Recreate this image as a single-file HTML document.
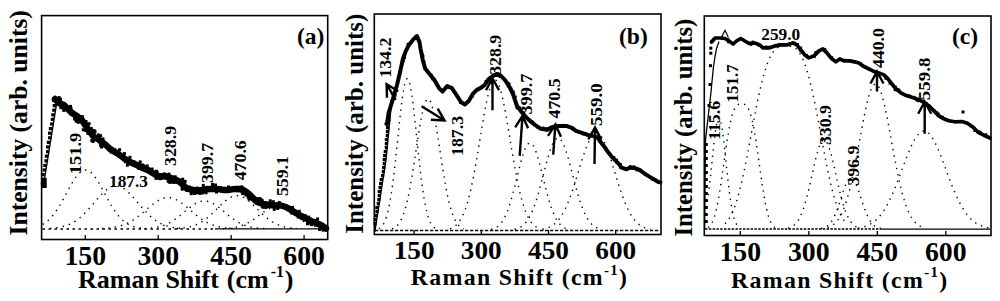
<!DOCTYPE html>
<html><head><meta charset="utf-8"><style>
html,body{margin:0;padding:0;background:#fff;}
svg{display:block;}
text{font-family:"Liberation Serif",serif;}
</style></head><body>
<svg width="1000" height="301" viewBox="0 0 1000 301" shape-rendering="auto">
<rect width="1000" height="301" fill="#fff"/>
<rect x="41.6" y="15.6" width="286.09999999999997" height="223.9" fill="none" stroke="#000" stroke-width="1.6"/>
<line x1="85.3" y1="239.5" x2="85.3" y2="235.0" stroke="#000" stroke-width="1.3"/>
<line x1="158.23000000000002" y1="239.5" x2="158.23000000000002" y2="235.0" stroke="#000" stroke-width="1.3"/>
<line x1="231.16000000000003" y1="239.5" x2="231.16000000000003" y2="235.0" stroke="#000" stroke-width="1.3"/>
<line x1="304.09000000000003" y1="239.5" x2="304.09000000000003" y2="235.0" stroke="#000" stroke-width="1.3"/>
<text transform="translate(85.30,264.5) scale(1.03,1)" font-weight="bold" font-size="27" text-anchor="middle">150</text>
<text transform="translate(158.23,264.5) scale(1.03,1)" font-weight="bold" font-size="27" text-anchor="middle">300</text>
<text transform="translate(231.16,264.5) scale(1.03,1)" font-weight="bold" font-size="27" text-anchor="middle">450</text>
<text transform="translate(304.09,264.5) scale(1.03,1)" font-weight="bold" font-size="27" text-anchor="middle">600</text>
<text x="78" y="287.8" font-weight="bold" font-size="26" letter-spacing="0">Raman Shift <tspan dx="1.5">(cm</tspan><tspan font-size="16.1" dx="2" dy="-11.2">-1</tspan><tspan dx="0.5" dy="11.2">)</tspan></text>
<text transform="translate(27.3,235.5) rotate(-90)" font-weight="bold" font-size="25.6">Intensity (arb. units)</text>
<text x="297" y="43.7" font-weight="bold" font-size="23.5">(a)</text>
<line x1="42.5" y1="228.9" x2="215" y2="228.9" stroke="#000" stroke-width="1.5" stroke-dasharray="2.5 3.5"/>
<line x1="215" y1="228.9" x2="327" y2="228.9" stroke="#000" stroke-width="1.2"/>
<path d="M42.5,224.4 L43.0,224.1 L43.5,223.8 L44.0,223.5 L44.5,223.2 L45.0,222.8 L45.5,222.5 L46.0,222.1 L46.5,221.7 L47.0,221.3 L47.5,220.9 L48.0,220.5 L48.5,220.1 L49.0,219.6 L49.5,219.1 L50.0,218.6 L50.5,218.1 L51.0,217.6 L51.5,217.0 L52.0,216.5 L52.5,215.9 L53.0,215.3 L53.5,214.6 L54.0,214.0 L54.5,213.3 L55.0,212.7 L55.5,212.0 L56.0,211.3 L56.5,210.5 L57.0,209.8 L57.5,209.0 L58.0,208.2 L58.5,207.4 L59.0,206.6 L59.5,205.8 L60.0,205.0 L60.5,204.1 L61.0,203.3 L61.5,202.4 L62.0,201.5 L62.5,200.6 L63.0,199.7 L63.5,198.8 L64.0,197.8 L64.5,196.9 L65.0,196.0 L65.5,195.1 L66.0,194.1 L66.5,193.2 L67.0,192.2 L67.5,191.3 L68.0,190.4 L68.5,189.4 L69.0,188.5 L69.5,187.6 L70.0,186.7 L70.5,185.8 L71.0,184.9 L71.5,184.0 L72.0,183.1 L72.5,182.3 L73.0,181.5 L73.5,180.7 L74.0,179.9 L74.5,179.1 L75.0,178.3 L75.5,177.6 L76.0,176.9 L76.5,176.3 L77.0,175.6 L77.5,175.0 L78.0,174.4 L78.5,173.9 L79.0,173.3 L79.5,172.9 L80.0,172.4 L80.5,172.0 L81.0,171.6 L81.5,171.3 L82.0,171.0 L82.5,170.7 L83.0,170.5 L83.5,170.3 L84.0,170.2 L84.5,170.1 L85.0,170.0 L85.5,170.0 L86.0,170.0 L86.5,170.1 L87.0,170.2 L87.5,170.3 L88.0,170.5 L88.5,170.7 L89.0,171.0 L89.5,171.3 L90.0,171.6 L90.5,172.0 L91.0,172.4 L91.5,172.9 L92.0,173.3 L92.5,173.9 L93.0,174.4 L93.5,175.0 L94.0,175.6 L94.5,176.3 L95.0,176.9 L95.5,177.6 L96.0,178.3 L96.5,179.1 L97.0,179.9 L97.5,180.7 L98.0,181.5 L98.5,182.3 L99.0,183.1 L99.5,184.0 L100.0,184.9 L100.5,185.8 L101.0,186.7 L101.5,187.6 L102.0,188.5 L102.5,189.4 L103.0,190.4 L103.5,191.3 L104.0,192.2 L104.5,193.2 L105.0,194.1 L105.5,195.1 L106.0,196.0 L106.5,196.9 L107.0,197.8 L107.5,198.8 L108.0,199.7 L108.5,200.6 L109.0,201.5 L109.5,202.4 L110.0,203.3 L110.5,204.1 L111.0,205.0 L111.5,205.8 L112.0,206.6 L112.5,207.4 L113.0,208.2 L113.5,209.0 L114.0,209.8 L114.5,210.5 L115.0,211.3 L115.5,212.0 L116.0,212.7 L116.5,213.3 L117.0,214.0 L117.5,214.6 L118.0,215.3 L118.5,215.9 L119.0,216.5 L119.5,217.0 L120.0,217.6 L120.5,218.1 L121.0,218.6 L121.5,219.1 L122.0,219.6 L122.5,220.1 L123.0,220.5 L123.5,220.9 L124.0,221.3 L124.5,221.7 L125.0,222.1 L125.5,222.5 L126.0,222.8 L126.5,223.2 L127.0,223.5 L127.5,223.8 L128.0,224.1 L128.5,224.4 L129.0,224.6 L129.5,224.9 L130.0,225.1 L130.5,225.3 L131.0,225.6 L131.5,225.8 L132.0,226.0 L132.5,226.1 L133.0,226.3 L133.5,226.5 L134.0,226.6 L134.5,226.8 L135.0,226.9 L135.5,227.1 L136.0,227.2 L136.5,227.3 L137.0,227.4 L137.5,227.5 L138.0,227.6 L138.5,227.7 L139.0,227.8 L139.5,227.9 L140.0,227.9 L140.5,228.0 L141.0,228.1 L141.5,228.1 L142.0,228.2 L142.5,228.2" fill="none" stroke="#000" stroke-width="1.4" stroke-dasharray="1.4 5"/>
<path d="M50.0,228.4 L50.5,228.4 L51.0,228.4 L51.5,228.3 L52.0,228.3 L52.5,228.2 L53.0,228.2 L53.5,228.1 L54.0,228.1 L54.5,228.0 L55.0,228.0 L55.5,227.9 L56.0,227.9 L56.5,227.8 L57.0,227.7 L57.5,227.6 L58.0,227.6 L58.5,227.5 L59.0,227.4 L59.5,227.3 L60.0,227.2 L60.5,227.1 L61.0,227.0 L61.5,226.9 L62.0,226.8 L62.5,226.7 L63.0,226.5 L63.5,226.4 L64.0,226.3 L64.5,226.1 L65.0,226.0 L65.5,225.8 L66.0,225.7 L66.5,225.5 L67.0,225.3 L67.5,225.1 L68.0,224.9 L68.5,224.7 L69.0,224.5 L69.5,224.3 L70.0,224.1 L70.5,223.8 L71.0,223.6 L71.5,223.4 L72.0,223.1 L72.5,222.8 L73.0,222.5 L73.5,222.3 L74.0,222.0 L74.5,221.7 L75.0,221.3 L75.5,221.0 L76.0,220.7 L76.5,220.3 L77.0,220.0 L77.5,219.6 L78.0,219.2 L78.5,218.9 L79.0,218.5 L79.5,218.1 L80.0,217.7 L80.5,217.2 L81.0,216.8 L81.5,216.4 L82.0,215.9 L82.5,215.4 L83.0,215.0 L83.5,214.5 L84.0,214.0 L84.5,213.5 L85.0,213.0 L85.5,212.5 L86.0,212.0 L86.5,211.4 L87.0,210.9 L87.5,210.4 L88.0,209.8 L88.5,209.3 L89.0,208.7 L89.5,208.1 L90.0,207.6 L90.5,207.0 L91.0,206.4 L91.5,205.8 L92.0,205.2 L92.5,204.7 L93.0,204.1 L93.5,203.5 L94.0,202.9 L94.5,202.3 L95.0,201.7 L95.5,201.1 L96.0,200.5 L96.5,199.9 L97.0,199.4 L97.5,198.8 L98.0,198.2 L98.5,197.6 L99.0,197.1 L99.5,196.5 L100.0,196.0 L100.5,195.4 L101.0,194.9 L101.5,194.4 L102.0,193.9 L102.5,193.4 L103.0,192.9 L103.5,192.4 L104.0,191.9 L104.5,191.5 L105.0,191.0 L105.5,190.6 L106.0,190.2 L106.5,189.8 L107.0,189.4 L107.5,189.1 L108.0,188.7 L108.5,188.4 L109.0,188.1 L109.5,187.8 L110.0,187.6 L110.5,187.3 L111.0,187.1 L111.5,186.9 L112.0,186.7 L112.5,186.5 L113.0,186.4 L113.5,186.3 L114.0,186.2 L114.5,186.1 L115.0,186.0 L115.5,186.0 L116.0,186.0 L116.5,186.0 L117.0,186.0 L117.5,186.1 L118.0,186.2 L118.5,186.3 L119.0,186.4 L119.5,186.5 L120.0,186.7 L120.5,186.9 L121.0,187.1 L121.5,187.3 L122.0,187.6 L122.5,187.8 L123.0,188.1 L123.5,188.4 L124.0,188.7 L124.5,189.1 L125.0,189.4 L125.5,189.8 L126.0,190.2 L126.5,190.6 L127.0,191.0 L127.5,191.5 L128.0,191.9 L128.5,192.4 L129.0,192.9 L129.5,193.4 L130.0,193.9 L130.5,194.4 L131.0,194.9 L131.5,195.4 L132.0,196.0 L132.5,196.5 L133.0,197.1 L133.5,197.6 L134.0,198.2 L134.5,198.8 L135.0,199.4 L135.5,199.9 L136.0,200.5 L136.5,201.1 L137.0,201.7 L137.5,202.3 L138.0,202.9 L138.5,203.5 L139.0,204.1 L139.5,204.7 L140.0,205.2 L140.5,205.8 L141.0,206.4 L141.5,207.0 L142.0,207.6 L142.5,208.1 L143.0,208.7 L143.5,209.3 L144.0,209.8 L144.5,210.4 L145.0,210.9 L145.5,211.4 L146.0,212.0 L146.5,212.5 L147.0,213.0 L147.5,213.5 L148.0,214.0 L148.5,214.5 L149.0,215.0 L149.5,215.4 L150.0,215.9 L150.5,216.4 L151.0,216.8 L151.5,217.2 L152.0,217.7 L152.5,218.1 L153.0,218.5 L153.5,218.9 L154.0,219.2 L154.5,219.6 L155.0,220.0 L155.5,220.3 L156.0,220.7 L156.5,221.0 L157.0,221.3 L157.5,221.7 L158.0,222.0 L158.5,222.3 L159.0,222.5 L159.5,222.8 L160.0,223.1 L160.5,223.4 L161.0,223.6 L161.5,223.8 L162.0,224.1 L162.5,224.3 L163.0,224.5 L163.5,224.7 L164.0,224.9 L164.5,225.1 L165.0,225.3 L165.5,225.5 L166.0,225.7 L166.5,225.8 L167.0,226.0 L167.5,226.1 L168.0,226.3 L168.5,226.4 L169.0,226.5 L169.5,226.7 L170.0,226.8 L170.5,226.9 L171.0,227.0 L171.5,227.1 L172.0,227.2 L172.5,227.3 L173.0,227.4 L173.5,227.5 L174.0,227.6 L174.5,227.6 L175.0,227.7 L175.5,227.8 L176.0,227.9 L176.5,227.9 L177.0,228.0 L177.5,228.0 L178.0,228.1 L178.5,228.1 L179.0,228.2 L179.5,228.2 L180.0,228.3 L180.5,228.3 L181.0,228.4 L181.5,228.4 L182.0,228.4" fill="none" stroke="#000" stroke-width="1.4" stroke-dasharray="1.4 5"/>
<path d="M102.0,228.6 L102.5,228.5 L103.0,228.5 L103.5,228.5 L104.0,228.4 L104.5,228.4 L105.0,228.4 L105.5,228.3 L106.0,228.3 L106.5,228.3 L107.0,228.2 L107.5,228.2 L108.0,228.1 L108.5,228.1 L109.0,228.0 L109.5,228.0 L110.0,227.9 L110.5,227.9 L111.0,227.8 L111.5,227.7 L112.0,227.7 L112.5,227.6 L113.0,227.5 L113.5,227.4 L114.0,227.4 L114.5,227.3 L115.0,227.2 L115.5,227.1 L116.0,227.0 L116.5,226.9 L117.0,226.8 L117.5,226.7 L118.0,226.5 L118.5,226.4 L119.0,226.3 L119.5,226.1 L120.0,226.0 L120.5,225.9 L121.0,225.7 L121.5,225.5 L122.0,225.4 L122.5,225.2 L123.0,225.0 L123.5,224.9 L124.0,224.7 L124.5,224.5 L125.0,224.3 L125.5,224.1 L126.0,223.8 L126.5,223.6 L127.0,223.4 L127.5,223.2 L128.0,222.9 L128.5,222.7 L129.0,222.4 L129.5,222.1 L130.0,221.9 L130.5,221.6 L131.0,221.3 L131.5,221.0 L132.0,220.7 L132.5,220.4 L133.0,220.1 L133.5,219.7 L134.0,219.4 L134.5,219.1 L135.0,218.7 L135.5,218.4 L136.0,218.0 L136.5,217.7 L137.0,217.3 L137.5,216.9 L138.0,216.5 L138.5,216.2 L139.0,215.8 L139.5,215.4 L140.0,215.0 L140.5,214.6 L141.0,214.2 L141.5,213.7 L142.0,213.3 L142.5,212.9 L143.0,212.5 L143.5,212.1 L144.0,211.6 L144.5,211.2 L145.0,210.8 L145.5,210.3 L146.0,209.9 L146.5,209.5 L147.0,209.1 L147.5,208.6 L148.0,208.2 L148.5,207.8 L149.0,207.3 L149.5,206.9 L150.0,206.5 L150.5,206.1 L151.0,205.7 L151.5,205.3 L152.0,204.9 L152.5,204.5 L153.0,204.1 L153.5,203.7 L154.0,203.3 L154.5,203.0 L155.0,202.6 L155.5,202.3 L156.0,201.9 L156.5,201.6 L157.0,201.3 L157.5,201.0 L158.0,200.7 L158.5,200.4 L159.0,200.1 L159.5,199.9 L160.0,199.6 L160.5,199.4 L161.0,199.1 L161.5,198.9 L162.0,198.7 L162.5,198.6 L163.0,198.4 L163.5,198.2 L164.0,198.1 L164.5,198.0 L165.0,197.9 L165.5,197.8 L166.0,197.7 L166.5,197.7 L167.0,197.6 L167.5,197.6 L168.0,197.6 L168.5,197.6 L169.0,197.6 L169.5,197.7 L170.0,197.7 L170.5,197.8 L171.0,197.9 L171.5,198.0 L172.0,198.1 L172.5,198.2 L173.0,198.4 L173.5,198.6 L174.0,198.7 L174.5,198.9 L175.0,199.1 L175.5,199.4 L176.0,199.6 L176.5,199.9 L177.0,200.1 L177.5,200.4 L178.0,200.7 L178.5,201.0 L179.0,201.3 L179.5,201.6 L180.0,201.9 L180.5,202.3 L181.0,202.6 L181.5,203.0 L182.0,203.3 L182.5,203.7 L183.0,204.1 L183.5,204.5 L184.0,204.9 L184.5,205.3 L185.0,205.7 L185.5,206.1 L186.0,206.5 L186.5,206.9 L187.0,207.3 L187.5,207.8 L188.0,208.2 L188.5,208.6 L189.0,209.1 L189.5,209.5 L190.0,209.9 L190.5,210.3 L191.0,210.8 L191.5,211.2 L192.0,211.6 L192.5,212.1 L193.0,212.5 L193.5,212.9 L194.0,213.3 L194.5,213.7 L195.0,214.2 L195.5,214.6 L196.0,215.0 L196.5,215.4 L197.0,215.8 L197.5,216.2 L198.0,216.5 L198.5,216.9 L199.0,217.3 L199.5,217.7 L200.0,218.0 L200.5,218.4 L201.0,218.7 L201.5,219.1 L202.0,219.4 L202.5,219.7 L203.0,220.1 L203.5,220.4 L204.0,220.7 L204.5,221.0 L205.0,221.3 L205.5,221.6 L206.0,221.9 L206.5,222.1 L207.0,222.4 L207.5,222.7 L208.0,222.9 L208.5,223.2 L209.0,223.4 L209.5,223.6 L210.0,223.8 L210.5,224.1 L211.0,224.3 L211.5,224.5 L212.0,224.7 L212.5,224.9 L213.0,225.0 L213.5,225.2 L214.0,225.4 L214.5,225.5 L215.0,225.7 L215.5,225.9 L216.0,226.0 L216.5,226.1 L217.0,226.3 L217.5,226.4 L218.0,226.5 L218.5,226.7 L219.0,226.8 L219.5,226.9 L220.0,227.0 L220.5,227.1 L221.0,227.2 L221.5,227.3 L222.0,227.4 L222.5,227.4 L223.0,227.5 L223.5,227.6 L224.0,227.7 L224.5,227.7 L225.0,227.8 L225.5,227.9 L226.0,227.9 L226.5,228.0 L227.0,228.0 L227.5,228.1 L228.0,228.1 L228.5,228.2 L229.0,228.2 L229.5,228.3 L230.0,228.3 L230.5,228.3 L231.0,228.4 L231.5,228.4 L232.0,228.4 L232.5,228.5 L233.0,228.5 L233.5,228.5 L234.0,228.6" fill="none" stroke="#000" stroke-width="1.4" stroke-dasharray="1.4 5"/>
<path d="M144.4,228.6 L144.9,228.6 L145.4,228.5 L145.9,228.5 L146.4,228.5 L146.9,228.5 L147.4,228.4 L147.9,228.4 L148.4,228.3 L148.9,228.3 L149.4,228.3 L149.9,228.2 L150.4,228.2 L150.9,228.1 L151.4,228.1 L151.9,228.0 L152.4,228.0 L152.9,227.9 L153.4,227.8 L153.9,227.7 L154.4,227.7 L154.9,227.6 L155.4,227.5 L155.9,227.4 L156.4,227.3 L156.9,227.2 L157.4,227.1 L157.9,227.0 L158.4,226.9 L158.9,226.8 L159.4,226.7 L159.9,226.6 L160.4,226.4 L160.9,226.3 L161.4,226.1 L161.9,226.0 L162.4,225.8 L162.9,225.7 L163.4,225.5 L163.9,225.3 L164.4,225.1 L164.9,224.9 L165.4,224.7 L165.9,224.5 L166.4,224.3 L166.9,224.1 L167.4,223.9 L167.9,223.6 L168.4,223.4 L168.9,223.1 L169.4,222.9 L169.9,222.6 L170.4,222.3 L170.9,222.0 L171.4,221.7 L171.9,221.4 L172.4,221.1 L172.9,220.8 L173.4,220.5 L173.9,220.2 L174.4,219.8 L174.9,219.5 L175.4,219.1 L175.9,218.8 L176.4,218.4 L176.9,218.1 L177.4,217.7 L177.9,217.3 L178.4,216.9 L178.9,216.5 L179.4,216.1 L179.9,215.7 L180.4,215.3 L180.9,214.9 L181.4,214.5 L181.9,214.1 L182.4,213.7 L182.9,213.2 L183.4,212.8 L183.9,212.4 L184.4,212.0 L184.9,211.6 L185.4,211.1 L185.9,210.7 L186.4,210.3 L186.9,209.9 L187.4,209.5 L187.9,209.0 L188.4,208.6 L188.9,208.2 L189.4,207.8 L189.9,207.4 L190.4,207.1 L190.9,206.7 L191.4,206.3 L191.9,206.0 L192.4,205.6 L192.9,205.3 L193.4,204.9 L193.9,204.6 L194.4,204.3 L194.9,204.0 L195.4,203.7 L195.9,203.4 L196.4,203.1 L196.9,202.9 L197.4,202.7 L197.9,202.4 L198.4,202.2 L198.9,202.0 L199.4,201.9 L199.9,201.7 L200.4,201.6 L200.9,201.4 L201.4,201.3 L201.9,201.2 L202.4,201.1 L202.9,201.1 L203.4,201.0 L203.9,201.0 L204.4,201.0 L204.9,201.0 L205.4,201.0 L205.9,201.1 L206.4,201.1 L206.9,201.2 L207.4,201.3 L207.9,201.4 L208.4,201.6 L208.9,201.7 L209.4,201.9 L209.9,202.0 L210.4,202.2 L210.9,202.4 L211.4,202.7 L211.9,202.9 L212.4,203.1 L212.9,203.4 L213.4,203.7 L213.9,204.0 L214.4,204.3 L214.9,204.6 L215.4,204.9 L215.9,205.3 L216.4,205.6 L216.9,206.0 L217.4,206.3 L217.9,206.7 L218.4,207.1 L218.9,207.4 L219.4,207.8 L219.9,208.2 L220.4,208.6 L220.9,209.0 L221.4,209.5 L221.9,209.9 L222.4,210.3 L222.9,210.7 L223.4,211.1 L223.9,211.6 L224.4,212.0 L224.9,212.4 L225.4,212.8 L225.9,213.2 L226.4,213.7 L226.9,214.1 L227.4,214.5 L227.9,214.9 L228.4,215.3 L228.9,215.7 L229.4,216.1 L229.9,216.5 L230.4,216.9 L230.9,217.3 L231.4,217.7 L231.9,218.1 L232.4,218.4 L232.9,218.8 L233.4,219.1 L233.9,219.5 L234.4,219.8 L234.9,220.2 L235.4,220.5 L235.9,220.8 L236.4,221.1 L236.9,221.4 L237.4,221.7 L237.9,222.0 L238.4,222.3 L238.9,222.6 L239.4,222.9 L239.9,223.1 L240.4,223.4 L240.9,223.6 L241.4,223.9 L241.9,224.1 L242.4,224.3 L242.9,224.5 L243.4,224.7 L243.9,224.9 L244.4,225.1 L244.9,225.3 L245.4,225.5 L245.9,225.7 L246.4,225.8 L246.9,226.0 L247.4,226.1 L247.9,226.3 L248.4,226.4 L248.9,226.6 L249.4,226.7 L249.9,226.8 L250.4,226.9 L250.9,227.0 L251.4,227.1 L251.9,227.2 L252.4,227.3 L252.9,227.4 L253.4,227.5 L253.9,227.6 L254.4,227.7 L254.9,227.7 L255.4,227.8 L255.9,227.9 L256.4,228.0 L256.9,228.0 L257.4,228.1 L257.9,228.1 L258.4,228.2 L258.9,228.2 L259.4,228.3 L259.9,228.3 L260.4,228.3 L260.9,228.4 L261.4,228.4 L261.9,228.5 L262.4,228.5 L262.9,228.5 L263.4,228.5 L263.9,228.6 L264.4,228.6" fill="none" stroke="#000" stroke-width="1.4" stroke-dasharray="1.4 5"/>
<path d="M177.0,228.5 L177.5,228.5 L178.0,228.5 L178.5,228.4 L179.0,228.4 L179.5,228.4 L180.0,228.3 L180.5,228.3 L181.0,228.2 L181.5,228.2 L182.0,228.1 L182.5,228.1 L183.0,228.0 L183.5,228.0 L184.0,227.9 L184.5,227.8 L185.0,227.8 L185.5,227.7 L186.0,227.6 L186.5,227.5 L187.0,227.4 L187.5,227.3 L188.0,227.2 L188.5,227.1 L189.0,227.0 L189.5,226.9 L190.0,226.8 L190.5,226.7 L191.0,226.5 L191.5,226.4 L192.0,226.3 L192.5,226.1 L193.0,225.9 L193.5,225.8 L194.0,225.6 L194.5,225.4 L195.0,225.2 L195.5,225.0 L196.0,224.8 L196.5,224.6 L197.0,224.4 L197.5,224.2 L198.0,223.9 L198.5,223.7 L199.0,223.4 L199.5,223.2 L200.0,222.9 L200.5,222.6 L201.0,222.3 L201.5,222.0 L202.0,221.7 L202.5,221.4 L203.0,221.1 L203.5,220.7 L204.0,220.4 L204.5,220.0 L205.0,219.7 L205.5,219.3 L206.0,218.9 L206.5,218.5 L207.0,218.1 L207.5,217.7 L208.0,217.3 L208.5,216.9 L209.0,216.4 L209.5,216.0 L210.0,215.6 L210.5,215.1 L211.0,214.6 L211.5,214.2 L212.0,213.7 L212.5,213.2 L213.0,212.7 L213.5,212.3 L214.0,211.8 L214.5,211.3 L215.0,210.8 L215.5,210.3 L216.0,209.8 L216.5,209.3 L217.0,208.8 L217.5,208.3 L218.0,207.8 L218.5,207.3 L219.0,206.8 L219.5,206.3 L220.0,205.8 L220.5,205.3 L221.0,204.8 L221.5,204.3 L222.0,203.8 L222.5,203.4 L223.0,202.9 L223.5,202.5 L224.0,202.0 L224.5,201.6 L225.0,201.2 L225.5,200.8 L226.0,200.4 L226.5,200.0 L227.0,199.6 L227.5,199.2 L228.0,198.9 L228.5,198.6 L229.0,198.3 L229.5,198.0 L230.0,197.7 L230.5,197.4 L231.0,197.2 L231.5,196.9 L232.0,196.7 L232.5,196.5 L233.0,196.4 L233.5,196.2 L234.0,196.1 L234.5,196.0 L235.0,195.9 L235.5,195.8 L236.0,195.7 L236.5,195.7 L237.0,195.7 L237.5,195.7 L238.0,195.7 L238.5,195.8 L239.0,195.9 L239.5,196.0 L240.0,196.1 L240.5,196.2 L241.0,196.4 L241.5,196.5 L242.0,196.7 L242.5,196.9 L243.0,197.2 L243.5,197.4 L244.0,197.7 L244.5,198.0 L245.0,198.3 L245.5,198.6 L246.0,198.9 L246.5,199.2 L247.0,199.6 L247.5,200.0 L248.0,200.4 L248.5,200.8 L249.0,201.2 L249.5,201.6 L250.0,202.0 L250.5,202.5 L251.0,202.9 L251.5,203.4 L252.0,203.8 L252.5,204.3 L253.0,204.8 L253.5,205.3 L254.0,205.8 L254.5,206.3 L255.0,206.8 L255.5,207.3 L256.0,207.8 L256.5,208.3 L257.0,208.8 L257.5,209.3 L258.0,209.8 L258.5,210.3 L259.0,210.8 L259.5,211.3 L260.0,211.8 L260.5,212.3 L261.0,212.7 L261.5,213.2 L262.0,213.7 L262.5,214.2 L263.0,214.6 L263.5,215.1 L264.0,215.6 L264.5,216.0 L265.0,216.4 L265.5,216.9 L266.0,217.3 L266.5,217.7 L267.0,218.1 L267.5,218.5 L268.0,218.9 L268.5,219.3 L269.0,219.7 L269.5,220.0 L270.0,220.4 L270.5,220.7 L271.0,221.1 L271.5,221.4 L272.0,221.7 L272.5,222.0 L273.0,222.3 L273.5,222.6 L274.0,222.9 L274.5,223.2 L275.0,223.4 L275.5,223.7 L276.0,223.9 L276.5,224.2 L277.0,224.4 L277.5,224.6 L278.0,224.8 L278.5,225.0 L279.0,225.2 L279.5,225.4 L280.0,225.6 L280.5,225.8 L281.0,225.9 L281.5,226.1 L282.0,226.3 L282.5,226.4 L283.0,226.5 L283.5,226.7 L284.0,226.8 L284.5,226.9 L285.0,227.0 L285.5,227.1 L286.0,227.2 L286.5,227.3 L287.0,227.4 L287.5,227.5 L288.0,227.6 L288.5,227.7 L289.0,227.8 L289.5,227.8 L290.0,227.9 L290.5,228.0 L291.0,228.0 L291.5,228.1 L292.0,228.1 L292.5,228.2 L293.0,228.2 L293.5,228.3 L294.0,228.3 L294.5,228.4 L295.0,228.4 L295.5,228.4 L296.0,228.5 L296.5,228.5 L297.0,228.5" fill="none" stroke="#000" stroke-width="1.4" stroke-dasharray="1.4 5"/>
<path d="M223.0,228.7 L223.5,228.6 L224.0,228.6 L224.5,228.6 L225.0,228.6 L225.5,228.5 L226.0,228.5 L226.5,228.5 L227.0,228.4 L227.5,228.4 L228.0,228.4 L228.5,228.3 L229.0,228.3 L229.5,228.2 L230.0,228.2 L230.5,228.1 L231.0,228.1 L231.5,228.0 L232.0,227.9 L232.5,227.9 L233.0,227.8 L233.5,227.7 L234.0,227.6 L234.5,227.5 L235.0,227.4 L235.5,227.3 L236.0,227.2 L236.5,227.1 L237.0,227.0 L237.5,226.9 L238.0,226.8 L238.5,226.6 L239.0,226.5 L239.5,226.4 L240.0,226.2 L240.5,226.1 L241.0,225.9 L241.5,225.7 L242.0,225.5 L242.5,225.4 L243.0,225.2 L243.5,225.0 L244.0,224.8 L244.5,224.6 L245.0,224.3 L245.5,224.1 L246.0,223.9 L246.5,223.6 L247.0,223.4 L247.5,223.1 L248.0,222.8 L248.5,222.6 L249.0,222.3 L249.5,222.0 L250.0,221.7 L250.5,221.4 L251.0,221.1 L251.5,220.8 L252.0,220.4 L252.5,220.1 L253.0,219.8 L253.5,219.4 L254.0,219.1 L254.5,218.7 L255.0,218.4 L255.5,218.0 L256.0,217.7 L256.5,217.3 L257.0,216.9 L257.5,216.6 L258.0,216.2 L258.5,215.8 L259.0,215.4 L259.5,215.1 L260.0,214.7 L260.5,214.3 L261.0,213.9 L261.5,213.6 L262.0,213.2 L262.5,212.9 L263.0,212.5 L263.5,212.1 L264.0,211.8 L264.5,211.5 L265.0,211.1 L265.5,210.8 L266.0,210.5 L266.5,210.2 L267.0,209.9 L267.5,209.6 L268.0,209.3 L268.5,209.0 L269.0,208.8 L269.5,208.5 L270.0,208.3 L270.5,208.1 L271.0,207.9 L271.5,207.7 L272.0,207.5 L272.5,207.4 L273.0,207.2 L273.5,207.1 L274.0,207.0 L274.5,206.9 L275.0,206.8 L275.5,206.8 L276.0,206.7 L276.5,206.7 L277.0,206.7 L277.5,206.7 L278.0,206.7 L278.5,206.8 L279.0,206.8 L279.5,206.9 L280.0,207.0 L280.5,207.1 L281.0,207.2 L281.5,207.4 L282.0,207.5 L282.5,207.7 L283.0,207.9 L283.5,208.1 L284.0,208.3 L284.5,208.5 L285.0,208.8 L285.5,209.0 L286.0,209.3 L286.5,209.6 L287.0,209.9 L287.5,210.2 L288.0,210.5 L288.5,210.8 L289.0,211.1 L289.5,211.5 L290.0,211.8 L290.5,212.1 L291.0,212.5 L291.5,212.9 L292.0,213.2 L292.5,213.6 L293.0,213.9 L293.5,214.3 L294.0,214.7 L294.5,215.1 L295.0,215.4 L295.5,215.8 L296.0,216.2 L296.5,216.6 L297.0,216.9 L297.5,217.3 L298.0,217.7 L298.5,218.0 L299.0,218.4 L299.5,218.7 L300.0,219.1 L300.5,219.4 L301.0,219.8 L301.5,220.1 L302.0,220.4 L302.5,220.8 L303.0,221.1 L303.5,221.4 L304.0,221.7 L304.5,222.0 L305.0,222.3 L305.5,222.6 L306.0,222.8 L306.5,223.1 L307.0,223.4 L307.5,223.6 L308.0,223.9 L308.5,224.1 L309.0,224.3 L309.5,224.6 L310.0,224.8 L310.5,225.0 L311.0,225.2 L311.5,225.4 L312.0,225.5 L312.5,225.7 L313.0,225.9 L313.5,226.1 L314.0,226.2 L314.5,226.4 L315.0,226.5 L315.5,226.6 L316.0,226.8 L316.5,226.9 L317.0,227.0 L317.5,227.1 L318.0,227.2 L318.5,227.3 L319.0,227.4 L319.5,227.5 L320.0,227.6 L320.5,227.7 L321.0,227.8 L321.5,227.9 L322.0,227.9 L322.5,228.0 L323.0,228.1 L323.5,228.1 L324.0,228.2 L324.5,228.2 L325.0,228.3 L325.5,228.3 L326.0,228.4 L326.5,228.4 L327.0,228.4" fill="none" stroke="#000" stroke-width="1.4" stroke-dasharray="1.4 5"/>
<polyline points="43.3,186.5 57.0,101.0" fill="none" stroke="#000" stroke-width="1.4"/>
<rect x="52.7" y="104.0" width="3.2" height="3.2"/>
<rect x="52.2" y="108.6" width="3.2" height="3.2"/>
<rect x="51.3" y="113.2" width="3.2" height="3.2"/>
<rect x="50.8" y="117.8" width="3.2" height="3.2"/>
<rect x="50.1" y="122.4" width="3.2" height="3.2"/>
<rect x="48.8" y="127.0" width="3.2" height="3.2"/>
<rect x="48.0" y="131.6" width="3.2" height="3.2"/>
<rect x="48.1" y="136.2" width="3.2" height="3.2"/>
<rect x="46.8" y="140.8" width="3.2" height="3.2"/>
<rect x="46.0" y="145.4" width="3.2" height="3.2"/>
<rect x="46.0" y="150.0" width="3.2" height="3.2"/>
<rect x="44.8" y="154.6" width="3.2" height="3.2"/>
<rect x="44.4" y="159.2" width="3.2" height="3.2"/>
<rect x="43.3" y="163.8" width="3.2" height="3.2"/>
<rect x="42.7" y="168.4" width="3.2" height="3.2"/>
<rect x="41.5" y="173.0" width="3.2" height="3.2"/>
<rect x="41.3" y="177.6" width="3.2" height="3.2"/>
<rect x="40.8" y="182.2" width="3.2" height="3.2"/>
<rect x="41.7" y="178" width="5" height="10"/>
<polyline points="55.0,99.0 58.9,103.0 63.9,105.0 67.9,109.0 71.9,113.0 76.9,116.0 81.8,120.0 85.8,125.9 89.8,131.8 93.8,136.8 98.0,139.0 102.6,142.6 107.0,146.0 110.5,149.3 119.0,154.5 125.0,159.0 131.0,162.5 136.8,165.0 142.8,168.0 148.8,170.5 152.0,172.5 156.0,175.0 160.0,177.0 164.0,176.0 168.0,177.0 174.0,179.0 180.0,182.0 185.9,187.8 191.8,189.8 197.8,190.8 203.8,189.8 211.0,188.9 217.0,188.9 223.0,189.9 229.0,189.9 234.9,188.9 240.9,188.9 244.8,190.9 248.8,193.9 252.8,197.8 256.8,201.8 262.8,204.0 270.0,205.0 276.0,205.5 281.0,205.5 286.0,207.0 291.0,210.0 296.0,213.0 301.0,216.0 306.0,218.5 311.0,221.0 316.0,223.0 321.0,225.0 326.0,228.5" fill="none" stroke="#000" stroke-width="6.5" stroke-linejoin="round" stroke-linecap="round"/>
<rect x="51.9" y="99.0" width="3.0" height="3.0"/>
<rect x="57.6" y="96.1" width="3.0" height="3.0"/>
<rect x="55.5" y="100.7" width="3.0" height="3.0"/>
<rect x="59.0" y="97.6" width="3.0" height="3.0"/>
<rect x="59.2" y="101.9" width="3.0" height="3.0"/>
<rect x="59.5" y="106.0" width="3.0" height="3.0"/>
<rect x="59.7" y="106.2" width="3.0" height="3.0"/>
<rect x="61.8" y="106.7" width="3.0" height="3.0"/>
<rect x="62.3" y="108.9" width="3.0" height="3.0"/>
<rect x="69.0" y="104.9" width="3.0" height="3.0"/>
<rect x="69.5" y="107.0" width="3.0" height="3.0"/>
<rect x="69.5" y="109.8" width="3.0" height="3.0"/>
<rect x="71.3" y="110.0" width="3.0" height="3.0"/>
<rect x="72.6" y="111.6" width="3.0" height="3.0"/>
<rect x="73.3" y="114.2" width="3.0" height="3.0"/>
<rect x="73.1" y="117.3" width="3.0" height="3.0"/>
<rect x="74.2" y="118.5" width="3.0" height="3.0"/>
<rect x="75.1" y="119.9" width="3.0" height="3.0"/>
<rect x="81.0" y="115.2" width="3.0" height="3.0"/>
<rect x="76.8" y="120.8" width="3.0" height="3.0"/>
<rect x="80.8" y="120.3" width="3.0" height="3.0"/>
<rect x="84.5" y="120.0" width="3.0" height="3.0"/>
<rect x="82.8" y="123.3" width="3.0" height="3.0"/>
<rect x="87.6" y="122.2" width="3.0" height="3.0"/>
<rect x="81.7" y="128.3" width="3.0" height="3.0"/>
<rect x="84.1" y="128.9" width="3.0" height="3.0"/>
<rect x="89.9" y="127.1" width="3.0" height="3.0"/>
<rect x="86.4" y="131.8" width="3.0" height="3.0"/>
<rect x="92.5" y="129.0" width="3.0" height="3.0"/>
<rect x="93.5" y="130.2" width="3.0" height="3.0"/>
<rect x="92.5" y="133.1" width="3.0" height="3.0"/>
<rect x="90.3" y="139.1" width="3.0" height="3.0"/>
<rect x="91.6" y="140.0" width="3.0" height="3.0"/>
<rect x="96.9" y="133.4" width="3.0" height="3.0"/>
<rect x="99.1" y="134.2" width="3.0" height="3.0"/>
<rect x="98.5" y="138.0" width="3.0" height="3.0"/>
<rect x="101.5" y="137.5" width="3.0" height="3.0"/>
<rect x="99.1" y="143.7" width="3.0" height="3.0"/>
<rect x="100.0" y="145.5" width="3.0" height="3.0"/>
<rect x="104.7" y="142.5" width="3.0" height="3.0"/>
<rect x="105.4" y="144.6" width="3.0" height="3.0"/>
<rect x="106.1" y="146.2" width="3.0" height="3.0"/>
<rect x="107.1" y="147.5" width="3.0" height="3.0"/>
<rect x="109.0" y="147.9" width="3.0" height="3.0"/>
<rect x="109.7" y="150.5" width="3.0" height="3.0"/>
<rect x="113.3" y="148.4" width="3.0" height="3.0"/>
<rect x="114.0" y="151.1" width="3.0" height="3.0"/>
<rect x="118.1" y="148.2" width="3.0" height="3.0"/>
<rect x="117.1" y="153.6" width="3.0" height="3.0"/>
<rect x="118.4" y="155.0" width="3.0" height="3.0"/>
<rect x="122.9" y="152.1" width="3.0" height="3.0"/>
<rect x="122.2" y="156.1" width="3.0" height="3.0"/>
<rect x="124.2" y="156.4" width="3.0" height="3.0"/>
<rect x="123.9" y="160.2" width="3.0" height="3.0"/>
<rect x="128.5" y="155.8" width="3.0" height="3.0"/>
<rect x="125.9" y="163.7" width="3.0" height="3.0"/>
<rect x="129.7" y="160.6" width="3.0" height="3.0"/>
<rect x="131.6" y="160.1" width="3.0" height="3.0"/>
<rect x="133.1" y="160.7" width="3.0" height="3.0"/>
<rect x="133.5" y="163.7" width="3.0" height="3.0"/>
<rect x="135.8" y="162.5" width="3.0" height="3.0"/>
<rect x="138.7" y="160.4" width="3.0" height="3.0"/>
<rect x="137.4" y="166.9" width="3.0" height="3.0"/>
<rect x="140.9" y="163.5" width="3.0" height="3.0"/>
<rect x="142.2" y="164.3" width="3.0" height="3.0"/>
<rect x="143.0" y="166.6" width="3.0" height="3.0"/>
<rect x="145.7" y="164.4" width="3.0" height="3.0"/>
<rect x="146.4" y="167.0" width="3.0" height="3.0"/>
<rect x="147.6" y="168.5" width="3.0" height="3.0"/>
<rect x="150.5" y="167.5" width="3.0" height="3.0"/>
<rect x="149.8" y="172.1" width="3.0" height="3.0"/>
<rect x="152.1" y="171.5" width="3.0" height="3.0"/>
<rect x="155.0" y="169.8" width="3.0" height="3.0"/>
<rect x="155.7" y="171.0" width="3.0" height="3.0"/>
<rect x="154.5" y="176.9" width="3.0" height="3.0"/>
<rect x="158.1" y="173.1" width="3.0" height="3.0"/>
<rect x="158.8" y="176.7" width="3.0" height="3.0"/>
<rect x="159.5" y="173.8" width="3.0" height="3.0"/>
<rect x="160.7" y="173.0" width="3.0" height="3.0"/>
<rect x="163.0" y="172.5" width="3.0" height="3.0"/>
<rect x="164.0" y="174.1" width="3.0" height="3.0"/>
<rect x="165.4" y="174.4" width="3.0" height="3.0"/>
<rect x="167.5" y="172.6" width="3.0" height="3.0"/>
<rect x="166.7" y="179.8" width="3.0" height="3.0"/>
<rect x="168.1" y="180.7" width="3.0" height="3.0"/>
<rect x="169.7" y="180.8" width="3.0" height="3.0"/>
<rect x="173.6" y="175.3" width="3.0" height="3.0"/>
<rect x="172.6" y="181.0" width="3.0" height="3.0"/>
<rect x="175.4" y="179.2" width="3.0" height="3.0"/>
<rect x="177.6" y="178.5" width="3.0" height="3.0"/>
<rect x="181.2" y="177.7" width="3.0" height="3.0"/>
<rect x="181.0" y="180.3" width="3.0" height="3.0"/>
<rect x="183.7" y="179.9" width="3.0" height="3.0"/>
<rect x="180.8" y="185.2" width="3.0" height="3.0"/>
<rect x="180.7" y="187.7" width="3.0" height="3.0"/>
<rect x="184.2" y="187.0" width="3.0" height="3.0"/>
<rect x="185.2" y="188.9" width="3.0" height="3.0"/>
<rect x="187.9" y="185.6" width="3.0" height="3.0"/>
<rect x="188.8" y="188.0" width="3.0" height="3.0"/>
<rect x="189.7" y="192.2" width="3.0" height="3.0"/>
<rect x="192.0" y="187.1" width="3.0" height="3.0"/>
<rect x="192.8" y="192.0" width="3.0" height="3.0"/>
<rect x="194.4" y="191.6" width="3.0" height="3.0"/>
<rect x="195.9" y="186.6" width="3.0" height="3.0"/>
<rect x="198.3" y="191.9" width="3.0" height="3.0"/>
<rect x="199.7" y="191.4" width="3.0" height="3.0"/>
<rect x="201.3" y="191.3" width="3.0" height="3.0"/>
<rect x="201.8" y="183.9" width="3.0" height="3.0"/>
<rect x="204.5" y="191.3" width="3.0" height="3.0"/>
<rect x="205.6" y="185.8" width="3.0" height="3.0"/>
<rect x="207.7" y="187.9" width="3.0" height="3.0"/>
<rect x="209.5" y="187.2" width="3.0" height="3.0"/>
<rect x="211.0" y="182.9" width="3.0" height="3.0"/>
<rect x="212.5" y="184.0" width="3.0" height="3.0"/>
<rect x="214.0" y="183.5" width="3.0" height="3.0"/>
<rect x="215.0" y="190.5" width="3.0" height="3.0"/>
<rect x="217.0" y="187.7" width="3.0" height="3.0"/>
<rect x="218.8" y="186.3" width="3.0" height="3.0"/>
<rect x="219.8" y="189.5" width="3.0" height="3.0"/>
<rect x="221.5" y="187.1" width="3.0" height="3.0"/>
<rect x="223.0" y="186.9" width="3.0" height="3.0"/>
<rect x="224.5" y="188.9" width="3.0" height="3.0"/>
<rect x="226.0" y="187.3" width="3.0" height="3.0"/>
<rect x="227.0" y="185.5" width="3.0" height="3.0"/>
<rect x="229.6" y="189.0" width="3.0" height="3.0"/>
<rect x="231.3" y="186.7" width="3.0" height="3.0"/>
<rect x="233.4" y="188.5" width="3.0" height="3.0"/>
<rect x="234.9" y="186.3" width="3.0" height="3.0"/>
<rect x="236.4" y="189.2" width="3.0" height="3.0"/>
<rect x="237.9" y="189.1" width="3.0" height="3.0"/>
<rect x="240.4" y="185.4" width="3.0" height="3.0"/>
<rect x="239.9" y="189.6" width="3.0" height="3.0"/>
<rect x="242.3" y="188.1" width="3.0" height="3.0"/>
<rect x="241.2" y="192.1" width="3.0" height="3.0"/>
<rect x="245.3" y="189.5" width="3.0" height="3.0"/>
<rect x="244.4" y="193.5" width="3.0" height="3.0"/>
<rect x="247.5" y="192.2" width="3.0" height="3.0"/>
<rect x="246.7" y="195.7" width="3.0" height="3.0"/>
<rect x="247.5" y="197.5" width="3.0" height="3.0"/>
<rect x="250.2" y="197.4" width="3.0" height="3.0"/>
<rect x="252.2" y="198.0" width="3.0" height="3.0"/>
<rect x="253.4" y="199.5" width="3.0" height="3.0"/>
<rect x="256.4" y="197.3" width="3.0" height="3.0"/>
<rect x="258.2" y="197.0" width="3.0" height="3.0"/>
<rect x="259.5" y="198.0" width="3.0" height="3.0"/>
<rect x="260.8" y="199.2" width="3.0" height="3.0"/>
<rect x="260.9" y="205.5" width="3.0" height="3.0"/>
<rect x="262.7" y="205.8" width="3.0" height="3.0"/>
<rect x="264.5" y="206.0" width="3.0" height="3.0"/>
<rect x="266.6" y="204.0" width="3.0" height="3.0"/>
<rect x="268.8" y="199.3" width="3.0" height="3.0"/>
<rect x="270.0" y="203.7" width="3.0" height="3.0"/>
<rect x="271.8" y="200.2" width="3.0" height="3.0"/>
<rect x="272.7" y="207.8" width="3.0" height="3.0"/>
<rect x="274.5" y="202.4" width="3.0" height="3.0"/>
<rect x="276.2" y="207.0" width="3.0" height="3.0"/>
<rect x="277.8" y="201.1" width="3.0" height="3.0"/>
<rect x="279.2" y="205.0" width="3.0" height="3.0"/>
<rect x="281.4" y="203.6" width="3.0" height="3.0"/>
<rect x="283.1" y="204.1" width="3.0" height="3.0"/>
<rect x="284.9" y="204.9" width="3.0" height="3.0"/>
<rect x="286.2" y="206.5" width="3.0" height="3.0"/>
<rect x="288.2" y="206.8" width="3.0" height="3.0"/>
<rect x="291.1" y="205.9" width="3.0" height="3.0"/>
<rect x="290.0" y="211.5" width="3.0" height="3.0"/>
<rect x="292.8" y="210.6" width="3.0" height="3.0"/>
<rect x="293.8" y="212.6" width="3.0" height="3.0"/>
<rect x="297.8" y="209.8" width="3.0" height="3.0"/>
<rect x="296.7" y="215.4" width="3.0" height="3.0"/>
<rect x="299.4" y="214.6" width="3.0" height="3.0"/>
<rect x="300.3" y="217.1" width="3.0" height="3.0"/>
<rect x="303.8" y="214.3" width="3.0" height="3.0"/>
<rect x="304.2" y="217.7" width="3.0" height="3.0"/>
<rect x="307.2" y="215.7" width="3.0" height="3.0"/>
<rect x="306.0" y="222.3" width="3.0" height="3.0"/>
<rect x="308.8" y="221.2" width="3.0" height="3.0"/>
<rect x="310.0" y="223.1" width="3.0" height="3.0"/>
<rect x="313.6" y="218.9" width="3.0" height="3.0"/>
<rect x="316.1" y="217.5" width="3.0" height="3.0"/>
<rect x="316.6" y="221.2" width="3.0" height="3.0"/>
<rect x="318.3" y="221.7" width="3.0" height="3.0"/>
<rect x="318.1" y="225.5" width="3.0" height="3.0"/>
<rect x="318.2" y="228.0" width="3.0" height="3.0"/>
<rect x="321.5" y="226.0" width="3.0" height="3.0"/>
<rect x="321.5" y="228.6" width="3.0" height="3.0"/>
<text transform="translate(81.4,174.2) rotate(-90) scale(1.12,1)" font-weight="bold" font-size="16.5">151.9</text>
<text transform="translate(109,187) scale(1.05,1)" font-weight="bold" font-size="16.5">187.3</text>
<text transform="translate(175.6,166) rotate(-90) scale(1.08,1)" font-weight="bold" font-size="16.5">328.9</text>
<text transform="translate(213.0,183) rotate(-90) scale(1.08,1)" font-weight="bold" font-size="16.5">399.7</text>
<text transform="translate(246.2,180.3) rotate(-90) scale(1.08,1)" font-weight="bold" font-size="16.5">470.6</text>
<text transform="translate(287.9,196.1) rotate(-90) scale(1.08,1)" font-weight="bold" font-size="16.5">559.1</text>
<rect x="374.3" y="14" width="286.7" height="220.5" fill="none" stroke="#000" stroke-width="1.6"/>
<line x1="414.1" y1="234.5" x2="414.1" y2="230.0" stroke="#000" stroke-width="1.3"/>
<line x1="481.3" y1="234.5" x2="481.3" y2="230.0" stroke="#000" stroke-width="1.3"/>
<line x1="548.5" y1="234.5" x2="548.5" y2="230.0" stroke="#000" stroke-width="1.3"/>
<line x1="615.7" y1="234.5" x2="615.7" y2="230.0" stroke="#000" stroke-width="1.3"/>
<text transform="translate(414.10,259) scale(1.05,1)" font-weight="bold" font-size="26" text-anchor="middle">150</text>
<text transform="translate(481.30,259) scale(1.05,1)" font-weight="bold" font-size="26" text-anchor="middle">300</text>
<text transform="translate(548.50,259) scale(1.05,1)" font-weight="bold" font-size="26" text-anchor="middle">450</text>
<text transform="translate(615.70,259) scale(1.05,1)" font-weight="bold" font-size="26" text-anchor="middle">600</text>
<text x="410.8" y="285.2" font-weight="bold" font-size="23.8" letter-spacing="1.33">Raman Shift <tspan dx="0">(cm</tspan><tspan font-size="14.8" dx="0" dy="-10.2">-1</tspan><tspan dx="0" dy="10.2">)</tspan></text>
<text transform="translate(362.5,233.8) rotate(-90)" font-weight="bold" font-size="25">Intensity (arb. units)</text>
<text x="619" y="43.7" font-weight="bold" font-size="23.5">(b)</text>
<line x1="375" y1="230.4" x2="660" y2="230.4" stroke="#000" stroke-width="1.5" stroke-dasharray="3.3 1.7"/>
<path d="M378.8,228.7 L379.3,228.4 L379.8,228.1 L380.3,227.7 L380.8,227.3 L381.3,226.8 L381.8,226.3 L382.3,225.6 L382.8,224.9 L383.3,224.2 L383.8,223.3 L384.3,222.3 L384.8,221.2 L385.3,220.0 L385.8,218.7 L386.3,217.2 L386.8,215.6 L387.3,213.8 L387.8,211.9 L388.3,209.9 L388.8,207.6 L389.3,205.2 L389.8,202.6 L390.3,199.8 L390.8,196.8 L391.3,193.6 L391.8,190.3 L392.3,186.8 L392.8,183.0 L393.3,179.2 L393.8,175.1 L394.3,170.9 L394.8,166.5 L395.3,162.0 L395.8,157.4 L396.3,152.8 L396.8,148.0 L397.3,143.2 L397.8,138.3 L398.3,133.5 L398.8,128.7 L399.3,123.9 L399.8,119.2 L400.3,114.7 L400.8,110.3 L401.3,106.0 L401.8,102.0 L402.3,98.2 L402.8,94.7 L403.3,91.5 L403.8,88.6 L404.3,86.0 L404.8,83.8 L405.3,81.9 L405.8,80.5 L406.3,79.4 L406.8,78.8 L407.3,78.6 L407.8,78.8 L408.3,79.4 L408.8,80.5 L409.3,81.9 L409.8,83.8 L410.3,86.0 L410.8,88.6 L411.3,91.5 L411.8,94.7 L412.3,98.2 L412.8,102.0 L413.3,106.0 L413.8,110.3 L414.3,114.7 L414.8,119.2 L415.3,123.9 L415.8,128.7 L416.3,133.5 L416.8,138.3 L417.3,143.2 L417.8,148.0 L418.3,152.8 L418.8,157.4 L419.3,162.0 L419.8,166.5 L420.3,170.9 L420.8,175.1 L421.3,179.2 L421.8,183.0 L422.3,186.8 L422.8,190.3 L423.3,193.6 L423.8,196.8 L424.3,199.8 L424.8,202.6 L425.3,205.2 L425.8,207.6 L426.3,209.9 L426.8,211.9 L427.3,213.8 L427.8,215.6 L428.3,217.2 L428.8,218.7 L429.3,220.0 L429.8,221.2 L430.3,222.3 L430.8,223.3 L431.3,224.2 L431.8,224.9 L432.3,225.6 L432.8,226.3 L433.3,226.8 L433.8,227.3 L434.3,227.7 L434.8,228.1 L435.3,228.4 L435.8,228.7" fill="none" stroke="#000" stroke-width="1.4" stroke-dasharray="1.4 5"/>
<path d="M392.0,228.9 L392.5,228.7 L393.0,228.5 L393.5,228.3 L394.0,228.0 L394.5,227.7 L395.0,227.4 L395.5,227.0 L396.0,226.6 L396.5,226.2 L397.0,225.7 L397.5,225.2 L398.0,224.6 L398.5,224.0 L399.0,223.3 L399.5,222.6 L400.0,221.8 L400.5,220.9 L401.0,219.9 L401.5,218.9 L402.0,217.8 L402.5,216.7 L403.0,215.4 L403.5,214.1 L404.0,212.6 L404.5,211.1 L405.0,209.5 L405.5,207.7 L406.0,205.9 L406.5,204.0 L407.0,202.0 L407.5,199.9 L408.0,197.6 L408.5,195.3 L409.0,192.9 L409.5,190.4 L410.0,187.7 L410.5,185.0 L411.0,182.2 L411.5,179.3 L412.0,176.4 L412.5,173.3 L413.0,170.2 L413.5,167.1 L414.0,163.9 L414.5,160.6 L415.0,157.3 L415.5,154.0 L416.0,150.7 L416.5,147.4 L417.0,144.1 L417.5,140.8 L418.0,137.5 L418.5,134.3 L419.0,131.2 L419.5,128.2 L420.0,125.2 L420.5,122.3 L421.0,119.6 L421.5,116.9 L422.0,114.4 L422.5,112.1 L423.0,109.9 L423.5,107.9 L424.0,106.1 L424.5,104.5 L425.0,103.0 L425.5,101.8 L426.0,100.8 L426.5,100.0 L427.0,99.5 L427.5,99.1 L428.0,99.0 L428.5,99.1 L429.0,99.5 L429.5,100.0 L430.0,100.8 L430.5,101.8 L431.0,103.0 L431.5,104.5 L432.0,106.1 L432.5,107.9 L433.0,109.9 L433.5,112.1 L434.0,114.4 L434.5,116.9 L435.0,119.6 L435.5,122.3 L436.0,125.2 L436.5,128.2 L437.0,131.2 L437.5,134.3 L438.0,137.5 L438.5,140.8 L439.0,144.1 L439.5,147.4 L440.0,150.7 L440.5,154.0 L441.0,157.3 L441.5,160.6 L442.0,163.9 L442.5,167.1 L443.0,170.2 L443.5,173.3 L444.0,176.4 L444.5,179.3 L445.0,182.2 L445.5,185.0 L446.0,187.7 L446.5,190.4 L447.0,192.9 L447.5,195.3 L448.0,197.6 L448.5,199.9 L449.0,202.0 L449.5,204.0 L450.0,205.9 L450.5,207.7 L451.0,209.5 L451.5,211.1 L452.0,212.6 L452.5,214.1 L453.0,215.4 L453.5,216.7 L454.0,217.8 L454.5,218.9 L455.0,219.9 L455.5,220.9 L456.0,221.8 L456.5,222.6 L457.0,223.3 L457.5,224.0 L458.0,224.6 L458.5,225.2 L459.0,225.7 L459.5,226.2 L460.0,226.6 L460.5,227.0 L461.0,227.4 L461.5,227.7 L462.0,228.0 L462.5,228.3 L463.0,228.5 L463.5,228.7 L464.0,228.9" fill="none" stroke="#000" stroke-width="1.4" stroke-dasharray="1.4 5"/>
<path d="M450.0,228.7 L450.5,228.6 L451.0,228.4 L451.5,228.2 L452.0,227.9 L452.5,227.7 L453.0,227.4 L453.5,227.1 L454.0,226.8 L454.5,226.5 L455.0,226.1 L455.5,225.7 L456.0,225.3 L456.5,224.8 L457.0,224.3 L457.5,223.8 L458.0,223.2 L458.5,222.6 L459.0,222.0 L459.5,221.3 L460.0,220.5 L460.5,219.7 L461.0,218.9 L461.5,218.0 L462.0,217.0 L462.5,216.0 L463.0,214.9 L463.5,213.8 L464.0,212.6 L464.5,211.4 L465.0,210.0 L465.5,208.7 L466.0,207.2 L466.5,205.7 L467.0,204.1 L467.5,202.4 L468.0,200.6 L468.5,198.8 L469.0,196.9 L469.5,194.9 L470.0,192.9 L470.5,190.8 L471.0,188.6 L471.5,186.3 L472.0,184.0 L472.5,181.6 L473.0,179.1 L473.5,176.6 L474.0,174.0 L474.5,171.3 L475.0,168.6 L475.5,165.8 L476.0,163.0 L476.5,160.1 L477.0,157.2 L477.5,154.2 L478.0,151.3 L478.5,148.3 L479.0,145.3 L479.5,142.2 L480.0,139.2 L480.5,136.1 L481.0,133.1 L481.5,130.1 L482.0,127.1 L482.5,124.1 L483.0,121.2 L483.5,118.3 L484.0,115.5 L484.5,112.7 L485.0,110.0 L485.5,107.3 L486.0,104.8 L486.5,102.3 L487.0,99.9 L487.5,97.7 L488.0,95.5 L488.5,93.5 L489.0,91.6 L489.5,89.8 L490.0,88.1 L490.5,86.6 L491.0,85.3 L491.5,84.0 L492.0,83.0 L492.5,82.1 L493.0,81.3 L493.5,80.8 L494.0,80.3 L494.5,80.1 L495.0,80.0 L495.5,80.1 L496.0,80.3 L496.5,80.8 L497.0,81.3 L497.5,82.1 L498.0,83.0 L498.5,84.0 L499.0,85.3 L499.5,86.6 L500.0,88.1 L500.5,89.8 L501.0,91.6 L501.5,93.5 L502.0,95.5 L502.5,97.7 L503.0,99.9 L503.5,102.3 L504.0,104.8 L504.5,107.3 L505.0,110.0 L505.5,112.7 L506.0,115.5 L506.5,118.3 L507.0,121.2 L507.5,124.1 L508.0,127.1 L508.5,130.1 L509.0,133.1 L509.5,136.1 L510.0,139.2 L510.5,142.2 L511.0,145.3 L511.5,148.3 L512.0,151.3 L512.5,154.2 L513.0,157.2 L513.5,160.1 L514.0,163.0 L514.5,165.8 L515.0,168.6 L515.5,171.3 L516.0,174.0 L516.5,176.6 L517.0,179.1 L517.5,181.6 L518.0,184.0 L518.5,186.3 L519.0,188.6 L519.5,190.8 L520.0,192.9 L520.5,194.9 L521.0,196.9 L521.5,198.8 L522.0,200.6 L522.5,202.4 L523.0,204.1 L523.5,205.7 L524.0,207.2 L524.5,208.7 L525.0,210.0 L525.5,211.4 L526.0,212.6 L526.5,213.8 L527.0,214.9 L527.5,216.0 L528.0,217.0 L528.5,218.0 L529.0,218.9 L529.5,219.7 L530.0,220.5 L530.5,221.3 L531.0,222.0 L531.5,222.6 L532.0,223.2 L532.5,223.8 L533.0,224.3 L533.5,224.8 L534.0,225.3 L534.5,225.7 L535.0,226.1 L535.5,226.5 L536.0,226.8 L536.5,227.1 L537.0,227.4 L537.5,227.7 L538.0,227.9 L538.5,228.2 L539.0,228.4 L539.5,228.6 L540.0,228.7" fill="none" stroke="#000" stroke-width="1.4" stroke-dasharray="1.4 5"/>
<path d="M491.0,229.4 L491.5,229.3 L492.0,229.2 L492.5,229.0 L493.0,228.9 L493.5,228.7 L494.0,228.5 L494.5,228.3 L495.0,228.1 L495.5,227.8 L496.0,227.5 L496.5,227.2 L497.0,226.9 L497.5,226.6 L498.0,226.2 L498.5,225.8 L499.0,225.3 L499.5,224.8 L500.0,224.3 L500.5,223.7 L501.0,223.1 L501.5,222.5 L502.0,221.8 L502.5,221.1 L503.0,220.3 L503.5,219.5 L504.0,218.6 L504.5,217.6 L505.0,216.6 L505.5,215.6 L506.0,214.5 L506.5,213.3 L507.0,212.1 L507.5,210.9 L508.0,209.5 L508.5,208.1 L509.0,206.7 L509.5,205.2 L510.0,203.6 L510.5,202.0 L511.0,200.4 L511.5,198.6 L512.0,196.9 L512.5,195.1 L513.0,193.2 L513.5,191.3 L514.0,189.4 L514.5,187.5 L515.0,185.5 L515.5,183.5 L516.0,181.5 L516.5,179.4 L517.0,177.4 L517.5,175.4 L518.0,173.3 L518.5,171.3 L519.0,169.3 L519.5,167.3 L520.0,165.4 L520.5,163.5 L521.0,161.6 L521.5,159.8 L522.0,158.1 L522.5,156.4 L523.0,154.8 L523.5,153.3 L524.0,151.8 L524.5,150.5 L525.0,149.2 L525.5,148.1 L526.0,147.0 L526.5,146.1 L527.0,145.3 L527.5,144.6 L528.0,144.0 L528.5,143.6 L529.0,143.3 L529.5,143.1 L530.0,143.0 L530.5,143.1 L531.0,143.3 L531.5,143.6 L532.0,144.0 L532.5,144.6 L533.0,145.3 L533.5,146.1 L534.0,147.0 L534.5,148.1 L535.0,149.2 L535.5,150.5 L536.0,151.8 L536.5,153.3 L537.0,154.8 L537.5,156.4 L538.0,158.1 L538.5,159.8 L539.0,161.6 L539.5,163.5 L540.0,165.4 L540.5,167.3 L541.0,169.3 L541.5,171.3 L542.0,173.3 L542.5,175.4 L543.0,177.4 L543.5,179.4 L544.0,181.5 L544.5,183.5 L545.0,185.5 L545.5,187.5 L546.0,189.4 L546.5,191.3 L547.0,193.2 L547.5,195.1 L548.0,196.9 L548.5,198.6 L549.0,200.4 L549.5,202.0 L550.0,203.6 L550.5,205.2 L551.0,206.7 L551.5,208.1 L552.0,209.5 L552.5,210.9 L553.0,212.1 L553.5,213.3 L554.0,214.5 L554.5,215.6 L555.0,216.6 L555.5,217.6 L556.0,218.6 L556.5,219.5 L557.0,220.3 L557.5,221.1 L558.0,221.8 L558.5,222.5 L559.0,223.1 L559.5,223.7 L560.0,224.3 L560.5,224.8 L561.0,225.3 L561.5,225.8 L562.0,226.2 L562.5,226.6 L563.0,226.9 L563.5,227.2 L564.0,227.5 L564.5,227.8 L565.0,228.1 L565.5,228.3 L566.0,228.5 L566.5,228.7 L567.0,228.9 L567.5,229.0 L568.0,229.2 L568.5,229.3 L569.0,229.4" fill="none" stroke="#000" stroke-width="1.4" stroke-dasharray="1.4 5"/>
<path d="M514.5,229.4 L515.0,229.3 L515.5,229.1 L516.0,229.0 L516.5,228.9 L517.0,228.7 L517.5,228.5 L518.0,228.3 L518.5,228.1 L519.0,227.9 L519.5,227.7 L520.0,227.4 L520.5,227.1 L521.0,226.8 L521.5,226.5 L522.0,226.2 L522.5,225.8 L523.0,225.4 L523.5,225.0 L524.0,224.5 L524.5,224.0 L525.0,223.5 L525.5,222.9 L526.0,222.3 L526.5,221.7 L527.0,221.0 L527.5,220.3 L528.0,219.5 L528.5,218.7 L529.0,217.9 L529.5,217.0 L530.0,216.1 L530.5,215.1 L531.0,214.1 L531.5,213.0 L532.0,211.9 L532.5,210.7 L533.0,209.5 L533.5,208.2 L534.0,206.9 L534.5,205.6 L535.0,204.1 L535.5,202.7 L536.0,201.2 L536.5,199.6 L537.0,198.0 L537.5,196.4 L538.0,194.7 L538.5,193.0 L539.0,191.2 L539.5,189.5 L540.0,187.6 L540.5,185.8 L541.0,183.9 L541.5,182.0 L542.0,180.1 L542.5,178.2 L543.0,176.3 L543.5,174.4 L544.0,172.4 L544.5,170.5 L545.0,168.6 L545.5,166.7 L546.0,164.8 L546.5,162.9 L547.0,161.1 L547.5,159.3 L548.0,157.6 L548.5,155.8 L549.0,154.2 L549.5,152.6 L550.0,151.0 L550.5,149.6 L551.0,148.2 L551.5,146.8 L552.0,145.6 L552.5,144.4 L553.0,143.3 L553.5,142.3 L554.0,141.4 L554.5,140.7 L555.0,140.0 L555.5,139.4 L556.0,138.9 L556.5,138.5 L557.0,138.2 L557.5,138.1 L558.0,138.0 L558.5,138.1 L559.0,138.2 L559.5,138.5 L560.0,138.9 L560.5,139.4 L561.0,140.0 L561.5,140.7 L562.0,141.4 L562.5,142.3 L563.0,143.3 L563.5,144.4 L564.0,145.6 L564.5,146.8 L565.0,148.2 L565.5,149.6 L566.0,151.0 L566.5,152.6 L567.0,154.2 L567.5,155.8 L568.0,157.6 L568.5,159.3 L569.0,161.1 L569.5,162.9 L570.0,164.8 L570.5,166.7 L571.0,168.6 L571.5,170.5 L572.0,172.4 L572.5,174.4 L573.0,176.3 L573.5,178.2 L574.0,180.1 L574.5,182.0 L575.0,183.9 L575.5,185.8 L576.0,187.6 L576.5,189.5 L577.0,191.2 L577.5,193.0 L578.0,194.7 L578.5,196.4 L579.0,198.0 L579.5,199.6 L580.0,201.2 L580.5,202.7 L581.0,204.1 L581.5,205.6 L582.0,206.9 L582.5,208.2 L583.0,209.5 L583.5,210.7 L584.0,211.9 L584.5,213.0 L585.0,214.1 L585.5,215.1 L586.0,216.1 L586.5,217.0 L587.0,217.9 L587.5,218.7 L588.0,219.5 L588.5,220.3 L589.0,221.0 L589.5,221.7 L590.0,222.3 L590.5,222.9 L591.0,223.5 L591.5,224.0 L592.0,224.5 L592.5,225.0 L593.0,225.4 L593.5,225.8 L594.0,226.2 L594.5,226.5 L595.0,226.8 L595.5,227.1 L596.0,227.4 L596.5,227.7 L597.0,227.9 L597.5,228.1 L598.0,228.3 L598.5,228.5 L599.0,228.7 L599.5,228.9 L600.0,229.0 L600.5,229.1 L601.0,229.3 L601.5,229.4" fill="none" stroke="#000" stroke-width="1.4" stroke-dasharray="1.4 5"/>
<path d="M542.5,229.3 L543.0,229.2 L543.5,229.1 L544.0,229.0 L544.5,228.9 L545.0,228.8 L545.5,228.6 L546.0,228.5 L546.5,228.3 L547.0,228.2 L547.5,228.0 L548.0,227.8 L548.5,227.6 L549.0,227.4 L549.5,227.2 L550.0,226.9 L550.5,226.7 L551.0,226.4 L551.5,226.1 L552.0,225.8 L552.5,225.5 L553.0,225.1 L553.5,224.8 L554.0,224.4 L554.5,224.0 L555.0,223.6 L555.5,223.1 L556.0,222.7 L556.5,222.2 L557.0,221.6 L557.5,221.1 L558.0,220.5 L558.5,219.9 L559.0,219.3 L559.5,218.6 L560.0,217.9 L560.5,217.2 L561.0,216.5 L561.5,215.7 L562.0,214.9 L562.5,214.0 L563.0,213.2 L563.5,212.3 L564.0,211.3 L564.5,210.3 L565.0,209.3 L565.5,208.3 L566.0,207.2 L566.5,206.1 L567.0,205.0 L567.5,203.8 L568.0,202.6 L568.5,201.4 L569.0,200.1 L569.5,198.8 L570.0,197.4 L570.5,196.1 L571.0,194.7 L571.5,193.3 L572.0,191.8 L572.5,190.4 L573.0,188.9 L573.5,187.3 L574.0,185.8 L574.5,184.2 L575.0,182.7 L575.5,181.1 L576.0,179.5 L576.5,177.9 L577.0,176.2 L577.5,174.6 L578.0,173.0 L578.5,171.3 L579.0,169.7 L579.5,168.0 L580.0,166.4 L580.5,164.8 L581.0,163.2 L581.5,161.6 L582.0,160.0 L582.5,158.4 L583.0,156.9 L583.5,155.4 L584.0,153.9 L584.5,152.4 L585.0,151.0 L585.5,149.6 L586.0,148.2 L586.5,146.9 L587.0,145.7 L587.5,144.4 L588.0,143.3 L588.5,142.2 L589.0,141.1 L589.5,140.1 L590.0,139.1 L590.5,138.3 L591.0,137.4 L591.5,136.7 L592.0,136.0 L592.5,135.4 L593.0,134.8 L593.5,134.3 L594.0,133.9 L594.5,133.6 L595.0,133.3 L595.5,133.2 L596.0,133.0 L596.5,133.0 L597.0,133.0 L597.5,133.2 L598.0,133.3 L598.5,133.6 L599.0,133.9 L599.5,134.3 L600.0,134.8 L600.5,135.4 L601.0,136.0 L601.5,136.7 L602.0,137.4 L602.5,138.3 L603.0,139.1 L603.5,140.1 L604.0,141.1 L604.5,142.2 L605.0,143.3 L605.5,144.4 L606.0,145.7 L606.5,146.9 L607.0,148.2 L607.5,149.6 L608.0,151.0 L608.5,152.4 L609.0,153.9 L609.5,155.4 L610.0,156.9 L610.5,158.4 L611.0,160.0 L611.5,161.6 L612.0,163.2 L612.5,164.8 L613.0,166.4 L613.5,168.0 L614.0,169.7 L614.5,171.3 L615.0,173.0 L615.5,174.6 L616.0,176.2 L616.5,177.9 L617.0,179.5 L617.5,181.1 L618.0,182.7 L618.5,184.2 L619.0,185.8 L619.5,187.3 L620.0,188.9 L620.5,190.4 L621.0,191.8 L621.5,193.3 L622.0,194.7 L622.5,196.1 L623.0,197.4 L623.5,198.8 L624.0,200.1 L624.5,201.4 L625.0,202.6 L625.5,203.8 L626.0,205.0 L626.5,206.1 L627.0,207.2 L627.5,208.3 L628.0,209.3 L628.5,210.3 L629.0,211.3 L629.5,212.3 L630.0,213.2 L630.5,214.0 L631.0,214.9 L631.5,215.7 L632.0,216.5 L632.5,217.2 L633.0,217.9 L633.5,218.6 L634.0,219.3 L634.5,219.9 L635.0,220.5 L635.5,221.1 L636.0,221.6 L636.5,222.2 L637.0,222.7 L637.5,223.1 L638.0,223.6 L638.5,224.0 L639.0,224.4 L639.5,224.8 L640.0,225.1 L640.5,225.5 L641.0,225.8 L641.5,226.1 L642.0,226.4 L642.5,226.7 L643.0,226.9 L643.5,227.2 L644.0,227.4 L644.5,227.6 L645.0,227.8 L645.5,228.0 L646.0,228.2 L646.5,228.3 L647.0,228.5 L647.5,228.6 L648.0,228.8 L648.5,228.9 L649.0,229.0 L649.5,229.1 L650.0,229.2 L650.5,229.3" fill="none" stroke="#000" stroke-width="1.4" stroke-dasharray="1.4 5"/>
<polyline points="374.8,231.8 386.0,160.0 390.8,110.0" fill="none" stroke="#000" stroke-width="1.4"/>
<rect x="387.2" y="118" width="3.2" height="3.2"/>
<rect x="386.5" y="122" width="3.2" height="3.2"/>
<rect x="386.0" y="126" width="3.2" height="3.2"/>
<rect x="385.9" y="130" width="3.2" height="3.2"/>
<rect x="385.7" y="134" width="3.2" height="3.2"/>
<rect x="384.8" y="138" width="3.2" height="3.2"/>
<rect x="384.8" y="142" width="3.2" height="3.2"/>
<rect x="384.7" y="146" width="3.2" height="3.2"/>
<rect x="383.7" y="150" width="3.2" height="3.2"/>
<rect x="383.1" y="154" width="3.2" height="3.2"/>
<rect x="382.7" y="158" width="3.2" height="3.2"/>
<rect x="382.7" y="162" width="3.2" height="3.2"/>
<rect x="382.1" y="166" width="3.2" height="3.2"/>
<rect x="381.8" y="170" width="3.2" height="3.2"/>
<rect x="381.0" y="174" width="3.2" height="3.2"/>
<rect x="379.7" y="178" width="3.2" height="3.2"/>
<rect x="379.0" y="182" width="3.2" height="3.2"/>
<rect x="378.5" y="186" width="3.2" height="3.2"/>
<rect x="377.7" y="190" width="3.2" height="3.2"/>
<rect x="377.7" y="194" width="3.2" height="3.2"/>
<rect x="377.3" y="198" width="3.2" height="3.2"/>
<rect x="376.7" y="202" width="3.2" height="3.2"/>
<rect x="375.3" y="206" width="3.2" height="3.2"/>
<rect x="375.4" y="210" width="3.2" height="3.2"/>
<rect x="374.2" y="214" width="3.2" height="3.2"/>
<rect x="373.7" y="218" width="3.2" height="3.2"/>
<rect x="373.4" y="222" width="3.2" height="3.2"/>
<polyline points="387.0,124.0 388.6,113.2 391.1,104.9 393.6,96.6 397.0,85.0 399.9,72.8 402.9,58.9 405.9,50.9 408.9,44.9 412.9,39.9 416.9,36.0 419.5,42.0 420.5,48.6 422.8,60.2 425.1,68.4 429.8,74.2 434.4,80.0 439.0,88.1 442.6,91.6 447.2,86.0 451.9,88.1 456.5,95.0 460.9,102.0 464.9,104.5 468.9,100.8 472.8,93.9 476.8,89.9 480.8,87.9 484.8,84.9 489.0,78.9 493.0,75.9 497.0,73.9 500.9,75.9 504.9,79.9 508.9,85.9 512.9,93.9 517.0,106.0 520.9,111.0 524.9,116.0 528.9,119.9 534.9,124.9 540.9,128.9 546.8,129.9 552.8,126.9 558.8,125.9 566.0,125.9 572.0,127.9 575.9,130.9 581.9,132.9 587.9,134.9 591.9,135.9 596.9,136.9 599.8,140.9 603.8,145.9 607.8,151.8 611.8,156.8 615.8,160.8 619.8,164.8 621.0,167.4 626.5,169.3 630.1,167.4 635.6,168.3 640.2,170.2 644.7,173.8 649.3,176.6 653.9,179.3 658.4,182.0 660.5,182.4" fill="none" stroke="#000" stroke-width="4.0" stroke-linejoin="round" stroke-linecap="round"/>
<rect x="384.5" y="122.6" width="2.5" height="2.5"/>
<rect x="386.9" y="111.8" width="2.5" height="2.5"/>
<rect x="389.1" y="107.0" width="2.5" height="2.5"/>
<rect x="390.2" y="100.1" width="2.5" height="2.5"/>
<rect x="393.0" y="97.3" width="2.5" height="2.5"/>
<rect x="394.1" y="94.1" width="2.5" height="2.5"/>
<rect x="398.6" y="71.5" width="2.5" height="2.5"/>
<rect x="401.0" y="63.0" width="2.5" height="2.5"/>
<rect x="402.4" y="59.6" width="2.5" height="2.5"/>
<rect x="403.5" y="56.5" width="2.5" height="2.5"/>
<rect x="402.4" y="54.3" width="2.5" height="2.5"/>
<rect x="406.6" y="42.8" width="2.5" height="2.5"/>
<rect x="416.9" y="37.8" width="2.5" height="2.5"/>
<rect x="416.9" y="39.6" width="2.5" height="2.5"/>
<rect x="421.1" y="53.0" width="2.5" height="2.5"/>
<rect x="421.9" y="54.9" width="2.5" height="2.5"/>
<rect x="422.9" y="60.3" width="2.5" height="2.5"/>
<rect x="426.4" y="69.9" width="2.5" height="2.5"/>
<rect x="427.3" y="71.6" width="2.5" height="2.5"/>
<rect x="430.3" y="73.9" width="2.5" height="2.5"/>
<rect x="431.3" y="77.9" width="2.5" height="2.5"/>
<rect x="447.2" y="86.2" width="2.5" height="2.5"/>
<rect x="453.3" y="91.0" width="2.5" height="2.5"/>
<rect x="454.3" y="92.4" width="2.5" height="2.5"/>
<rect x="459.2" y="101.5" width="2.5" height="2.5"/>
<rect x="462.5" y="102.1" width="2.5" height="2.5"/>
<rect x="462.8" y="102.3" width="2.5" height="2.5"/>
<rect x="471.5" y="94.9" width="2.5" height="2.5"/>
<rect x="484.5" y="79.9" width="2.5" height="2.5"/>
<rect x="486.0" y="78.6" width="2.5" height="2.5"/>
<rect x="487.7" y="77.6" width="2.5" height="2.5"/>
<rect x="498.8" y="75.5" width="2.5" height="2.5"/>
<rect x="507.9" y="82.3" width="2.5" height="2.5"/>
<rect x="506.9" y="85.0" width="2.5" height="2.5"/>
<rect x="508.6" y="86.2" width="2.5" height="2.5"/>
<rect x="510.0" y="87.5" width="2.5" height="2.5"/>
<rect x="510.3" y="89.3" width="2.5" height="2.5"/>
<rect x="512.1" y="90.4" width="2.5" height="2.5"/>
<rect x="512.6" y="92.3" width="2.5" height="2.5"/>
<rect x="514.2" y="95.6" width="2.5" height="2.5"/>
<rect x="515.4" y="102.9" width="2.5" height="2.5"/>
<rect x="515.6" y="106.9" width="2.5" height="2.5"/>
<rect x="518.7" y="106.5" width="2.5" height="2.5"/>
<rect x="519.4" y="110.0" width="2.5" height="2.5"/>
<rect x="522.7" y="111.4" width="2.5" height="2.5"/>
<rect x="531.1" y="120.6" width="2.5" height="2.5"/>
<rect x="536.3" y="126.1" width="2.5" height="2.5"/>
<rect x="541.9" y="126.6" width="2.5" height="2.5"/>
<rect x="543.7" y="127.3" width="2.5" height="2.5"/>
<rect x="545.0" y="127.5" width="2.5" height="2.5"/>
<rect x="550.7" y="127.7" width="2.5" height="2.5"/>
<rect x="557.5" y="124.1" width="2.5" height="2.5"/>
<rect x="563.0" y="124.0" width="2.5" height="2.5"/>
<rect x="566.4" y="124.8" width="2.5" height="2.5"/>
<rect x="571.6" y="128.2" width="2.5" height="2.5"/>
<rect x="581.9" y="132.9" width="2.5" height="2.5"/>
<rect x="586.5" y="134.3" width="2.5" height="2.5"/>
<rect x="593.9" y="135.9" width="2.5" height="2.5"/>
<rect x="595.7" y="135.6" width="2.5" height="2.5"/>
<rect x="599.2" y="139.2" width="2.5" height="2.5"/>
<rect x="608.8" y="152.9" width="2.5" height="2.5"/>
<rect x="610.4" y="155.7" width="2.5" height="2.5"/>
<rect x="612.8" y="156.0" width="2.5" height="2.5"/>
<rect x="615.5" y="158.6" width="2.5" height="2.5"/>
<rect x="615.6" y="161.2" width="2.5" height="2.5"/>
<rect x="619.3" y="163.2" width="2.5" height="2.5"/>
<rect x="619.7" y="166.3" width="2.5" height="2.5"/>
<rect x="629.0" y="165.2" width="2.5" height="2.5"/>
<rect x="630.5" y="167.4" width="2.5" height="2.5"/>
<rect x="632.7" y="165.3" width="2.5" height="2.5"/>
<rect x="635.4" y="168.8" width="2.5" height="2.5"/>
<rect x="637.5" y="168.2" width="2.5" height="2.5"/>
<rect x="638.3" y="169.7" width="2.5" height="2.5"/>
<rect x="650.6" y="178.0" width="2.5" height="2.5"/>
<rect x="655.6" y="180.0" width="2.5" height="2.5"/>
<path d="M395.7,99.9 L386.6,84.1 M398.2,91.3 L386.6,84.1 L387.0,97.7" fill="none" stroke="#000" stroke-width="2.4" stroke-linejoin="miter"/>
<path d="M421.6,106.3 L444.5,120.5 M430.9,119.7 L444.5,120.5 L437.7,108.7" fill="none" stroke="#000" stroke-width="2.4" stroke-linejoin="miter"/>
<path d="M492.5,110.2 L492.5,78.3 M499.0,90.3 L492.5,78.3 L486.0,90.3" fill="none" stroke="#000" stroke-width="2.4" stroke-linejoin="miter"/>
<path d="M519.7,155.8 L522.5,115.8 M528.1,128.2 L522.5,115.8 L515.2,127.3" fill="none" stroke="#000" stroke-width="2.4" stroke-linejoin="miter"/>
<path d="M553.2,154.7 L555.4,124.4 M561.0,136.8 L555.4,124.4 L548.0,135.9" fill="none" stroke="#000" stroke-width="2.4" stroke-linejoin="miter"/>
<path d="M594.5,164 L595,127.5 M601.3,139.6 L595,127.5 L588.3,139.4" fill="none" stroke="#000" stroke-width="2.4" stroke-linejoin="miter"/>
<text transform="translate(390.5,77.7) rotate(-90) scale(1.08,1)" font-weight="bold" font-size="16.5">134.2</text>
<text transform="translate(463.1,156) rotate(-90) scale(1.08,1)" font-weight="bold" font-size="16.5">187.3</text>
<text transform="translate(500.9,74.8) rotate(-90) scale(1.08,1)" font-weight="bold" font-size="16.5">328.9</text>
<text transform="translate(531.9,114.5) rotate(-90) scale(1.1,1)" font-weight="bold" font-size="16.5">399.7</text>
<text transform="translate(560.1,118.5) rotate(-90) scale(1.08,1)" font-weight="bold" font-size="16.5">470.5</text>
<text transform="translate(601.9,126) rotate(-90) scale(1.15,1)" font-weight="bold" font-size="16.5">559.0</text>
<rect x="704.3" y="16" width="286.70000000000005" height="219.5" fill="none" stroke="#000" stroke-width="1.6"/>
<line x1="740.3" y1="235.5" x2="740.3" y2="231.0" stroke="#000" stroke-width="1.3"/>
<line x1="808.805" y1="235.5" x2="808.805" y2="231.0" stroke="#000" stroke-width="1.3"/>
<line x1="877.31" y1="235.5" x2="877.31" y2="231.0" stroke="#000" stroke-width="1.3"/>
<line x1="945.8149999999999" y1="235.5" x2="945.8149999999999" y2="231.0" stroke="#000" stroke-width="1.3"/>
<text transform="translate(740.30,260.6) scale(1.03,1)" font-weight="bold" font-size="27" text-anchor="middle">150</text>
<text transform="translate(808.80,260.6) scale(1.03,1)" font-weight="bold" font-size="27" text-anchor="middle">300</text>
<text transform="translate(877.31,260.6) scale(1.03,1)" font-weight="bold" font-size="27" text-anchor="middle">450</text>
<text transform="translate(945.81,260.6) scale(1.03,1)" font-weight="bold" font-size="27" text-anchor="middle">600</text>
<text x="731" y="287.6" font-weight="bold" font-size="23.8" letter-spacing="1.33">Raman Shift <tspan dx="0">(cm</tspan><tspan font-size="14.8" dx="0" dy="-10.2">-1</tspan><tspan dx="0" dy="10.2">)</tspan></text>
<text transform="translate(691.5,236.6) rotate(-90)" font-weight="bold" font-size="24.75">Intensity (arb. units)</text>
<text x="952" y="43.7" font-weight="bold" font-size="23.5">(c)</text>
<line x1="705" y1="229.1" x2="880" y2="229.1" stroke="#000" stroke-width="1.5" stroke-dasharray="2.5 1.3"/>
<line x1="880" y1="229.1" x2="990" y2="229.1" stroke="#000" stroke-width="1.2"/>
<path d="M705.0,214.1 L705.5,211.8 L706.0,209.3 L706.5,206.5 L707.0,203.5 L707.5,200.3 L708.0,196.8 L708.5,193.0 L709.0,189.1 L709.5,184.9 L710.0,180.5 L710.5,175.9 L711.0,171.3 L711.5,166.5 L712.0,161.7 L712.5,156.9 L713.0,152.2 L713.5,147.5 L714.0,143.0 L714.5,138.7 L715.0,134.7 L715.5,131.1 L716.0,127.7 L716.5,124.9 L717.0,122.4 L717.5,120.5 L718.0,119.1 L718.5,118.3 L719.0,118.0 L719.5,118.3 L720.0,119.1 L720.5,120.5 L721.0,122.4 L721.5,124.9 L722.0,127.7 L722.5,131.1 L723.0,134.7 L723.5,138.7 L724.0,143.0 L724.5,147.5 L725.0,152.2 L725.5,156.9 L726.0,161.7 L726.5,166.5 L727.0,171.3 L727.5,175.9 L728.0,180.5 L728.5,184.9 L729.0,189.1 L729.5,193.0 L730.0,196.8 L730.5,200.3 L731.0,203.5 L731.5,206.5 L732.0,209.3 L732.5,211.8 L733.0,214.1 L733.5,216.1 L734.0,217.9 L734.5,219.5 L735.0,220.9 L735.5,222.2 L736.0,223.3 L736.5,224.2 L737.0,225.0 L737.5,225.7 L738.0,226.3 L738.5,226.8 L739.0,227.2 L739.5,227.6 L740.0,227.9" fill="none" stroke="#000" stroke-width="1.4" stroke-dasharray="1.4 5"/>
<path d="M788.0,228.1 L788.5,228.0 L789.0,227.8 L789.5,227.7 L790.0,227.5 L790.5,227.3 L791.0,227.1 L791.5,226.8 L792.0,226.6 L792.5,226.3 L793.0,225.9 L793.5,225.6 L794.0,225.2 L794.5,224.8 L795.0,224.3 L795.5,223.8 L796.0,223.2 L796.5,222.7 L797.0,222.0 L797.5,221.3 L798.0,220.6 L798.5,219.8 L799.0,218.9 L799.5,218.0 L800.0,217.0 L800.5,216.0 L801.0,214.9 L801.5,213.7 L802.0,212.5 L802.5,211.2 L803.0,209.8 L803.5,208.4 L804.0,206.9 L804.5,205.3 L805.0,203.7 L805.5,201.9 L806.0,200.2 L806.5,198.3 L807.0,196.4 L807.5,194.5 L808.0,192.5 L808.5,190.4 L809.0,188.3 L809.5,186.2 L810.0,184.0 L810.5,181.8 L811.0,179.6 L811.5,177.3 L812.0,175.1 L812.5,172.8 L813.0,170.6 L813.5,168.3 L814.0,166.1 L814.5,164.0 L815.0,161.8 L815.5,159.8 L816.0,157.8 L816.5,155.8 L817.0,153.9 L817.5,152.2 L818.0,150.5 L818.5,148.9 L819.0,147.4 L819.5,146.0 L820.0,144.8 L820.5,143.7 L821.0,142.7 L821.5,141.9 L822.0,141.2 L822.5,140.7 L823.0,140.3 L823.5,140.1 L824.0,140.0 L824.5,140.1 L825.0,140.3 L825.5,140.7 L826.0,141.2 L826.5,141.9 L827.0,142.7 L827.5,143.7 L828.0,144.8 L828.5,146.0 L829.0,147.4 L829.5,148.9 L830.0,150.5 L830.5,152.2 L831.0,153.9 L831.5,155.8 L832.0,157.8 L832.5,159.8 L833.0,161.8 L833.5,164.0 L834.0,166.1 L834.5,168.3 L835.0,170.6 L835.5,172.8 L836.0,175.1 L836.5,177.3 L837.0,179.6 L837.5,181.8 L838.0,184.0 L838.5,186.2 L839.0,188.3 L839.5,190.4 L840.0,192.5 L840.5,194.5 L841.0,196.4 L841.5,198.3 L842.0,200.2 L842.5,201.9 L843.0,203.7 L843.5,205.3 L844.0,206.9 L844.5,208.4 L845.0,209.8 L845.5,211.2 L846.0,212.5 L846.5,213.7 L847.0,214.9 L847.5,216.0 L848.0,217.0 L848.5,218.0 L849.0,218.9 L849.5,219.8 L850.0,220.6 L850.5,221.3 L851.0,222.0 L851.5,222.7 L852.0,223.2 L852.5,223.8 L853.0,224.3 L853.5,224.8 L854.0,225.2 L854.5,225.6 L855.0,225.9 L855.5,226.3 L856.0,226.6 L856.5,226.8 L857.0,227.1 L857.5,227.3 L858.0,227.5 L858.5,227.7 L859.0,227.8 L859.5,228.0 L860.0,228.1" fill="none" stroke="#000" stroke-width="1.4" stroke-dasharray="1.4 5"/>
<path d="M821.0,228.5 L821.5,228.4 L822.0,228.3 L822.5,228.2 L823.0,228.1 L823.5,227.9 L824.0,227.8 L824.5,227.6 L825.0,227.4 L825.5,227.1 L826.0,226.9 L826.5,226.6 L827.0,226.2 L827.5,225.9 L828.0,225.5 L828.5,225.0 L829.0,224.6 L829.5,224.0 L830.0,223.5 L830.5,222.9 L831.0,222.2 L831.5,221.5 L832.0,220.7 L832.5,219.9 L833.0,219.0 L833.5,218.0 L834.0,217.1 L834.5,216.0 L835.0,214.9 L835.5,213.7 L836.0,212.5 L836.5,211.2 L837.0,209.9 L837.5,208.6 L838.0,207.1 L838.5,205.7 L839.0,204.2 L839.5,202.7 L840.0,201.2 L840.5,199.7 L841.0,198.1 L841.5,196.6 L842.0,195.0 L842.5,193.5 L843.0,192.0 L843.5,190.5 L844.0,189.1 L844.5,187.7 L845.0,186.4 L845.5,185.2 L846.0,184.0 L846.5,182.9 L847.0,181.9 L847.5,181.0 L848.0,180.2 L848.5,179.6 L849.0,179.0 L849.5,178.6 L850.0,178.3 L850.5,178.1 L851.0,178.0 L851.5,178.1 L852.0,178.3 L852.5,178.6 L853.0,179.0 L853.5,179.6 L854.0,180.2 L854.5,181.0 L855.0,181.9 L855.5,182.9 L856.0,184.0 L856.5,185.2 L857.0,186.4 L857.5,187.7 L858.0,189.1 L858.5,190.5 L859.0,192.0 L859.5,193.5 L860.0,195.0 L860.5,196.6 L861.0,198.1 L861.5,199.7 L862.0,201.2 L862.5,202.7 L863.0,204.2 L863.5,205.7 L864.0,207.1 L864.5,208.6 L865.0,209.9 L865.5,211.2 L866.0,212.5 L866.5,213.7 L867.0,214.9 L867.5,216.0 L868.0,217.1 L868.5,218.0 L869.0,219.0 L869.5,219.9 L870.0,220.7 L870.5,221.5 L871.0,222.2 L871.5,222.9 L872.0,223.5 L872.5,224.0 L873.0,224.6 L873.5,225.0 L874.0,225.5 L874.5,225.9 L875.0,226.2 L875.5,226.6 L876.0,226.9 L876.5,227.1 L877.0,227.4 L877.5,227.6 L878.0,227.8 L878.5,227.9 L879.0,228.1 L879.5,228.2 L880.0,228.3 L880.5,228.4 L881.0,228.5" fill="none" stroke="#000" stroke-width="1.4" stroke-dasharray="1.4 5"/>
<path d="M827.5,227.5 L828.0,227.3 L828.5,227.2 L829.0,227.0 L829.5,226.8 L830.0,226.6 L830.5,226.3 L831.0,226.1 L831.5,225.8 L832.0,225.5 L832.5,225.2 L833.0,224.8 L833.5,224.5 L834.0,224.1 L834.5,223.7 L835.0,223.2 L835.5,222.7 L836.0,222.2 L836.5,221.7 L837.0,221.1 L837.5,220.5 L838.0,219.8 L838.5,219.1 L839.0,218.3 L839.5,217.6 L840.0,216.7 L840.5,215.8 L841.0,214.9 L841.5,213.9 L842.0,212.9 L842.5,211.8 L843.0,210.7 L843.5,209.5 L844.0,208.2 L844.5,206.9 L845.0,205.5 L845.5,204.1 L846.0,202.6 L846.5,201.0 L847.0,199.4 L847.5,197.7 L848.0,196.0 L848.5,194.2 L849.0,192.3 L849.5,190.4 L850.0,188.4 L850.5,186.3 L851.0,184.2 L851.5,182.0 L852.0,179.8 L852.5,177.5 L853.0,175.1 L853.5,172.7 L854.0,170.3 L854.5,167.8 L855.0,165.2 L855.5,162.7 L856.0,160.1 L856.5,157.4 L857.0,154.7 L857.5,152.0 L858.0,149.3 L858.5,146.6 L859.0,143.8 L859.5,141.1 L860.0,138.3 L860.5,135.6 L861.0,132.9 L861.5,130.2 L862.0,127.5 L862.5,124.8 L863.0,122.2 L863.5,119.6 L864.0,117.0 L864.5,114.5 L865.0,112.1 L865.5,109.7 L866.0,107.4 L866.5,105.2 L867.0,103.1 L867.5,101.0 L868.0,99.1 L868.5,97.2 L869.0,95.5 L869.5,93.9 L870.0,92.3 L870.5,90.9 L871.0,89.6 L871.5,88.5 L872.0,87.4 L872.5,86.5 L873.0,85.8 L873.5,85.1 L874.0,84.6 L874.5,84.3 L875.0,84.1 L875.5,84.0 L876.0,84.1 L876.5,84.3 L877.0,84.6 L877.5,85.1 L878.0,85.8 L878.5,86.5 L879.0,87.4 L879.5,88.5 L880.0,89.6 L880.5,90.9 L881.0,92.3 L881.5,93.9 L882.0,95.5 L882.5,97.2 L883.0,99.1 L883.5,101.0 L884.0,103.1 L884.5,105.2 L885.0,107.4 L885.5,109.7 L886.0,112.1 L886.5,114.5 L887.0,117.0 L887.5,119.6 L888.0,122.2 L888.5,124.8 L889.0,127.5 L889.5,130.2 L890.0,132.9 L890.5,135.6 L891.0,138.3 L891.5,141.1 L892.0,143.8 L892.5,146.6 L893.0,149.3 L893.5,152.0 L894.0,154.7 L894.5,157.4 L895.0,160.1 L895.5,162.7 L896.0,165.2 L896.5,167.8 L897.0,170.3 L897.5,172.7 L898.0,175.1 L898.5,177.5 L899.0,179.8 L899.5,182.0 L900.0,184.2 L900.5,186.3 L901.0,188.4 L901.5,190.4 L902.0,192.3 L902.5,194.2 L903.0,196.0 L903.5,197.7 L904.0,199.4 L904.5,201.0 L905.0,202.6 L905.5,204.1 L906.0,205.5 L906.5,206.9 L907.0,208.2 L907.5,209.5 L908.0,210.7 L908.5,211.8 L909.0,212.9 L909.5,213.9 L910.0,214.9 L910.5,215.8 L911.0,216.7 L911.5,217.6 L912.0,218.3 L912.5,219.1 L913.0,219.8 L913.5,220.5 L914.0,221.1 L914.5,221.7 L915.0,222.2 L915.5,222.7 L916.0,223.2 L916.5,223.7 L917.0,224.1 L917.5,224.5 L918.0,224.8 L918.5,225.2 L919.0,225.5 L919.5,225.8 L920.0,226.1 L920.5,226.3 L921.0,226.6 L921.5,226.8 L922.0,227.0 L922.5,227.2 L923.0,227.3 L923.5,227.5" fill="none" stroke="#000" stroke-width="1.4" stroke-dasharray="1.4 5"/>
<path d="M858.0,228.0 L858.5,227.9 L859.0,227.9 L859.5,227.8 L860.0,227.7 L860.5,227.6 L861.0,227.5 L861.5,227.4 L862.0,227.3 L862.5,227.1 L863.0,227.0 L863.5,226.9 L864.0,226.7 L864.5,226.6 L865.0,226.4 L865.5,226.2 L866.0,226.1 L866.5,225.9 L867.0,225.7 L867.5,225.5 L868.0,225.3 L868.5,225.0 L869.0,224.8 L869.5,224.5 L870.0,224.3 L870.5,224.0 L871.0,223.7 L871.5,223.4 L872.0,223.1 L872.5,222.8 L873.0,222.4 L873.5,222.1 L874.0,221.7 L874.5,221.3 L875.0,220.9 L875.5,220.5 L876.0,220.0 L876.5,219.6 L877.0,219.1 L877.5,218.6 L878.0,218.1 L878.5,217.5 L879.0,217.0 L879.5,216.4 L880.0,215.8 L880.5,215.2 L881.0,214.6 L881.5,213.9 L882.0,213.2 L882.5,212.5 L883.0,211.8 L883.5,211.1 L884.0,210.3 L884.5,209.5 L885.0,208.7 L885.5,207.9 L886.0,207.0 L886.5,206.2 L887.0,205.3 L887.5,204.3 L888.0,203.4 L888.5,202.4 L889.0,201.4 L889.5,200.4 L890.0,199.4 L890.5,198.3 L891.0,197.3 L891.5,196.2 L892.0,195.0 L892.5,193.9 L893.0,192.7 L893.5,191.6 L894.0,190.4 L894.5,189.2 L895.0,188.0 L895.5,186.7 L896.0,185.5 L896.5,184.2 L897.0,182.9 L897.5,181.6 L898.0,180.3 L898.5,179.0 L899.0,177.7 L899.5,176.3 L900.0,175.0 L900.5,173.7 L901.0,172.3 L901.5,171.0 L902.0,169.6 L902.5,168.2 L903.0,166.9 L903.5,165.5 L904.0,164.2 L904.5,162.9 L905.0,161.5 L905.5,160.2 L906.0,158.9 L906.5,157.6 L907.0,156.3 L907.5,155.1 L908.0,153.8 L908.5,152.6 L909.0,151.3 L909.5,150.2 L910.0,149.0 L910.5,147.8 L911.0,146.7 L911.5,145.6 L912.0,144.6 L912.5,143.5 L913.0,142.5 L913.5,141.6 L914.0,140.6 L914.5,139.7 L915.0,138.9 L915.5,138.1 L916.0,137.3 L916.5,136.5 L917.0,135.8 L917.5,135.2 L918.0,134.6 L918.5,134.0 L919.0,133.5 L919.5,133.0 L920.0,132.6 L920.5,132.2 L921.0,131.9 L921.5,131.6 L922.0,131.4 L922.5,131.2 L923.0,131.1 L923.5,131.0 L924.0,131.0 L924.5,131.0 L925.0,131.1 L925.5,131.2 L926.0,131.4 L926.5,131.6 L927.0,131.9 L927.5,132.2 L928.0,132.6 L928.5,133.0 L929.0,133.5 L929.5,134.0 L930.0,134.6 L930.5,135.2 L931.0,135.8 L931.5,136.5 L932.0,137.3 L932.5,138.1 L933.0,138.9 L933.5,139.7 L934.0,140.6 L934.5,141.6 L935.0,142.5 L935.5,143.5 L936.0,144.6 L936.5,145.6 L937.0,146.7 L937.5,147.8 L938.0,149.0 L938.5,150.2 L939.0,151.3 L939.5,152.6 L940.0,153.8 L940.5,155.1 L941.0,156.3 L941.5,157.6 L942.0,158.9 L942.5,160.2 L943.0,161.5 L943.5,162.9 L944.0,164.2 L944.5,165.5 L945.0,166.9 L945.5,168.2 L946.0,169.6 L946.5,171.0 L947.0,172.3 L947.5,173.7 L948.0,175.0 L948.5,176.3 L949.0,177.7 L949.5,179.0 L950.0,180.3 L950.5,181.6 L951.0,182.9 L951.5,184.2 L952.0,185.5 L952.5,186.7 L953.0,188.0 L953.5,189.2 L954.0,190.4 L954.5,191.6 L955.0,192.7 L955.5,193.9 L956.0,195.0 L956.5,196.2 L957.0,197.3 L957.5,198.3 L958.0,199.4 L958.5,200.4 L959.0,201.4 L959.5,202.4 L960.0,203.4 L960.5,204.3 L961.0,205.3 L961.5,206.2 L962.0,207.0 L962.5,207.9 L963.0,208.7 L963.5,209.5 L964.0,210.3 L964.5,211.1 L965.0,211.8 L965.5,212.5 L966.0,213.2 L966.5,213.9 L967.0,214.6 L967.5,215.2 L968.0,215.8 L968.5,216.4 L969.0,217.0 L969.5,217.5 L970.0,218.1 L970.5,218.6 L971.0,219.1 L971.5,219.6 L972.0,220.0 L972.5,220.5 L973.0,220.9 L973.5,221.3 L974.0,221.7 L974.5,222.1 L975.0,222.4 L975.5,222.8 L976.0,223.1 L976.5,223.4 L977.0,223.7 L977.5,224.0 L978.0,224.3 L978.5,224.5 L979.0,224.8 L979.5,225.0 L980.0,225.3 L980.5,225.5 L981.0,225.7 L981.5,225.9 L982.0,226.1 L982.5,226.2 L983.0,226.4 L983.5,226.6 L984.0,226.7 L984.5,226.9 L985.0,227.0 L985.5,227.1 L986.0,227.3 L986.5,227.4 L987.0,227.5 L987.5,227.6 L988.0,227.7 L988.5,227.8 L989.0,227.9 L989.5,227.9 L990.0,228.0" fill="none" stroke="#000" stroke-width="1.4" stroke-dasharray="1.4 5"/>
<path d="M725.0,223.8 L725.5,223.3 L726.0,222.8 L726.5,222.3 L727.0,221.7 L727.5,221.1 L728.0,220.4 L728.5,219.7 L729.0,219.0 L729.5,218.2 L730.0,217.3 L730.5,216.4 L731.0,215.5 L731.5,214.5 L732.0,213.5 L732.5,212.4 L733.0,211.2 L733.5,210.0 L734.0,208.8 L734.5,207.4 L735.0,206.1 L735.5,204.6 L736.0,203.1 L736.5,201.6 L737.0,200.0 L737.5,198.3 L738.0,196.6 L738.5,194.8 L739.0,192.9 L739.5,191.0 L740.0,189.1 L740.5,187.1 L741.0,185.0 L741.5,182.9 L742.0,180.7 L742.5,178.5 L743.0,176.2 L743.5,173.9 L744.0,171.6 L744.5,169.2 L745.0,166.7 L745.5,164.3 L746.0,161.7 L746.5,159.2 L747.0,156.6 L747.5,154.0 L748.0,151.4 L748.5,148.8 L749.0,146.1 L749.5,143.5 L750.0,140.8 L750.5,138.1 L751.0,135.4 L751.5,132.7 L752.0,130.0 L752.5,127.3 L753.0,124.7 L753.5,122.0 L754.0,119.4 L754.5,116.7 L755.0,114.1 L755.5,111.6 L756.0,109.0 L756.5,106.5 L757.0,104.0 L757.5,101.6 L758.0,99.2 L758.5,96.8 L759.0,94.5 L759.5,92.2 L760.0,90.0 L760.5,87.8 L761.0,85.7 L761.5,83.6 L762.0,81.6 L762.5,79.6 L763.0,77.7 L763.5,75.9 L764.0,74.1 L764.5,72.3 L765.0,70.7 L765.5,69.1 L766.0,67.5 L766.5,66.0 L767.0,64.6 L767.5,63.2 L768.0,61.9 L768.5,60.7 L769.0,59.5 L769.5,58.4 L770.0,57.4 L770.5,56.3 L771.0,55.4 L771.5,54.5 L772.0,53.7 L772.5,52.9 L773.0,52.2 L773.5,51.5 L774.0,50.9 L774.5,50.3 L775.0,49.8 L775.5,49.3 L776.0,48.8 L776.5,48.4 L777.0,48.1 L777.5,47.7 L778.0,47.5 L778.5,47.2 L779.0,47.0 L779.5,46.8 L780.0,46.6 L780.5,46.5 L781.0,46.4 L781.5,46.3 L782.0,46.2 L782.5,46.1 L783.0,46.1 L783.5,46.0 L784.0,46.0 L784.5,46.0 L785.0,46.0 L785.5,46.0 L786.0,46.0 L786.5,46.0 L787.0,46.0 L787.5,46.0 L788.0,46.0 L788.5,46.0 L789.0,46.1 L789.5,46.1 L790.0,46.2 L790.5,46.3 L791.0,46.4 L791.5,46.5 L792.0,46.6 L792.5,46.8 L793.0,47.0 L793.5,47.2 L794.0,47.5 L794.5,47.7 L795.0,48.1 L795.5,48.4 L796.0,48.8 L796.5,49.3 L797.0,49.8 L797.5,50.3 L798.0,50.9 L798.5,51.5 L799.0,52.2 L799.5,52.9 L800.0,53.7 L800.5,54.5 L801.0,55.4 L801.5,56.3 L802.0,57.4 L802.5,58.4 L803.0,59.5 L803.5,60.7 L804.0,61.9 L804.5,63.2 L805.0,64.6 L805.5,66.0 L806.0,67.5 L806.5,69.1 L807.0,70.7 L807.5,72.3 L808.0,74.1 L808.5,75.9 L809.0,77.7 L809.5,79.6 L810.0,81.6 L810.5,83.6 L811.0,85.7 L811.5,87.8 L812.0,90.0 L812.5,92.2 L813.0,94.5 L813.5,96.8 L814.0,99.2 L814.5,101.6 L815.0,104.0 L815.5,106.5 L816.0,109.0 L816.5,111.6 L817.0,114.1 L817.5,116.7 L818.0,119.4 L818.5,122.0 L819.0,124.7 L819.5,127.3 L820.0,130.0 L820.5,132.7 L821.0,135.4 L821.5,138.1 L822.0,140.8 L822.5,143.5 L823.0,146.1 L823.5,148.8 L824.0,151.4 L824.5,154.0 L825.0,156.6 L825.5,159.2 L826.0,161.7 L826.5,164.3 L827.0,166.7 L827.5,169.2 L828.0,171.6 L828.5,173.9 L829.0,176.2 L829.5,178.5 L830.0,180.7 L830.5,182.9 L831.0,185.0 L831.5,187.1 L832.0,189.1 L832.5,191.0 L833.0,192.9 L833.5,194.8 L834.0,196.6 L834.5,198.3 L835.0,200.0 L835.5,201.6 L836.0,203.1 L836.5,204.6 L837.0,206.1 L837.5,207.4 L838.0,208.8 L838.5,210.0 L839.0,211.2 L839.5,212.4 L840.0,213.5 L840.5,214.5 L841.0,215.5 L841.5,216.4 L842.0,217.3 L842.5,218.2 L843.0,219.0 L843.5,219.7 L844.0,220.4 L844.5,221.1 L845.0,221.7 L845.5,222.3 L846.0,222.8 L846.5,223.3 L847.0,223.8" fill="none" stroke="#000" stroke-width="1.4" stroke-dasharray="1.4 5"/>
<path d="M708.0,227.5 L708.5,227.2 L709.0,226.8 L709.5,226.3 L710.0,225.8 L710.5,225.2 L711.0,224.5 L711.5,223.7 L712.0,222.7 L712.5,221.7 L713.0,220.6 L713.5,219.3 L714.0,217.9 L714.5,216.4 L715.0,214.7 L715.5,212.8 L716.0,210.8 L716.5,208.7 L717.0,206.4 L717.5,204.0 L718.0,201.4 L718.5,198.6 L719.0,195.8 L719.5,192.8 L720.0,189.6 L720.5,186.4 L721.0,183.1 L721.5,179.7 L722.0,176.2 L722.5,172.7 L723.0,169.1 L723.5,165.5 L724.0,161.9 L724.5,158.4 L725.0,154.8 L725.5,151.3 L726.0,147.9 L726.5,144.5 L727.0,141.3 L727.5,138.1 L728.0,135.1 L728.5,132.2 L729.0,129.4 L729.5,126.7 L730.0,124.2 L730.5,121.9 L731.0,119.7 L731.5,117.7 L732.0,115.9 L732.5,114.2 L733.0,112.6 L733.5,111.2 L734.0,110.0 L734.5,108.9 L735.0,107.9 L735.5,107.1 L736.0,106.4 L736.5,105.8 L737.0,105.3 L737.5,104.9 L738.0,104.6 L738.5,104.4 L739.0,104.2 L739.5,104.1 L740.0,104.0 L740.5,104.0 L741.0,104.0 L741.5,104.0 L742.0,104.0 L742.5,104.0 L743.0,104.0 L743.5,104.1 L744.0,104.2 L744.5,104.4 L745.0,104.6 L745.5,104.9 L746.0,105.3 L746.5,105.8 L747.0,106.4 L747.5,107.1 L748.0,107.9 L748.5,108.9 L749.0,110.0 L749.5,111.2 L750.0,112.6 L750.5,114.2 L751.0,115.9 L751.5,117.7 L752.0,119.7 L752.5,121.9 L753.0,124.2 L753.5,126.7 L754.0,129.4 L754.5,132.2 L755.0,135.1 L755.5,138.1 L756.0,141.3 L756.5,144.5 L757.0,147.9 L757.5,151.3 L758.0,154.8 L758.5,158.4 L759.0,161.9 L759.5,165.5 L760.0,169.1 L760.5,172.7 L761.0,176.2 L761.5,179.7 L762.0,183.1 L762.5,186.4 L763.0,189.6 L763.5,192.8 L764.0,195.8 L764.5,198.6 L765.0,201.4 L765.5,204.0 L766.0,206.4 L766.5,208.7 L767.0,210.8 L767.5,212.8 L768.0,214.7 L768.5,216.4 L769.0,217.9 L769.5,219.3 L770.0,220.6 L770.5,221.7 L771.0,222.7 L771.5,223.7 L772.0,224.5 L772.5,225.2 L773.0,225.8 L773.5,226.3 L774.0,226.8 L774.5,227.2 L775.0,227.5 L775.5,227.8 L776.0,228.0" fill="none" stroke="#000" stroke-width="1.4" stroke-dasharray="1.4 5"/>
<polyline points="704.6,229.0 705.5,140.0 711.0,92.0 713.3,68.0 715.0,56.5 716.6,48.2 719.0,41.6" fill="none" stroke="#000" stroke-width="1.3"/>
<polyline points="721.4,37.6 725.0,30.3 728.4,37.6" fill="none" stroke="#000" stroke-width="1.2"/>
<rect x="704.8" y="143" width="3" height="3"/>
<rect x="704.8" y="150" width="3" height="3"/>
<rect x="704.8" y="157" width="3" height="3"/>
<rect x="704.8" y="164" width="3" height="3"/>
<rect x="704.8" y="171" width="3" height="3"/>
<rect x="704.8" y="178" width="3" height="3"/>
<rect x="704.8" y="185" width="3" height="3"/>
<rect x="704.8" y="192" width="3" height="3"/>
<rect x="704.8" y="199" width="3" height="3"/>
<rect x="704.8" y="206" width="3" height="3"/>
<rect x="704.8" y="213" width="3" height="3"/>
<rect x="704.8" y="220" width="3" height="3"/>
<rect x="709.3" y="46.7" width="3" height="3"/>
<rect x="709.3" y="51.7" width="3" height="3"/>
<rect x="709" y="64.2" width="3" height="3"/>
<rect x="708.5" y="83" width="3" height="3"/>
<rect x="707.5" y="104" width="3" height="3"/>
<polyline points="711.6,42.0 715.0,38.0 720.0,38.0 725.0,38.5 729.0,41.0 733.2,44.0 736.5,41.0 740.7,38.5 744.9,41.0 749.0,43.3 754.8,43.0 759.8,45.0 762.9,47.9 768.9,47.9 774.9,45.9 780.9,44.9 786.8,44.9 792.8,42.9 796.8,44.9 800.8,49.9 804.8,54.9 809.0,57.9 814.0,55.9 818.9,50.9 822.9,48.9 826.9,52.9 830.9,57.9 835.9,61.9 839.8,58.9 843.8,60.9 849.8,60.9 854.8,61.9 859.0,63.0 863.0,66.0 867.0,68.0 872.9,70.9 878.9,72.9 883.9,74.9 887.9,78.9 891.9,83.9 895.8,88.8 900.8,92.8 906.8,95.8 911.0,96.9 917.0,98.9 922.9,101.9 928.9,105.9 933.9,110.9 938.9,115.9 943.8,118.8 948.8,120.8 954.8,121.8 962.0,121.5 967.4,123.3 972.9,127.0 978.4,132.5 983.9,135.2 990.0,138.0" fill="none" stroke="#000" stroke-width="3.7" stroke-linejoin="round" stroke-linecap="round"/>
<rect x="710.0" y="40.5" width="2.5" height="2.5"/>
<rect x="712.7" y="38.2" width="2.5" height="2.5"/>
<rect x="720.5" y="36.5" width="2.5" height="2.5"/>
<rect x="726.9" y="38.2" width="2.5" height="2.5"/>
<rect x="727.0" y="40.8" width="2.5" height="2.5"/>
<rect x="749.8" y="43.3" width="2.5" height="2.5"/>
<rect x="751.6" y="40.6" width="2.5" height="2.5"/>
<rect x="755.2" y="42.5" width="2.5" height="2.5"/>
<rect x="758.0" y="44.3" width="2.5" height="2.5"/>
<rect x="759.7" y="44.6" width="2.5" height="2.5"/>
<rect x="764.6" y="45.5" width="2.5" height="2.5"/>
<rect x="766.1" y="46.4" width="2.5" height="2.5"/>
<rect x="767.3" y="45.7" width="2.5" height="2.5"/>
<rect x="778.1" y="43.3" width="2.5" height="2.5"/>
<rect x="788.5" y="42.5" width="2.5" height="2.5"/>
<rect x="793.2" y="41.6" width="2.5" height="2.5"/>
<rect x="796.4" y="43.0" width="2.5" height="2.5"/>
<rect x="799.6" y="46.6" width="2.5" height="2.5"/>
<rect x="798.9" y="49.2" width="2.5" height="2.5"/>
<rect x="805.5" y="53.9" width="2.5" height="2.5"/>
<rect x="806.5" y="55.5" width="2.5" height="2.5"/>
<rect x="809.5" y="56.1" width="2.5" height="2.5"/>
<rect x="810.9" y="54.8" width="2.5" height="2.5"/>
<rect x="813.4" y="55.3" width="2.5" height="2.5"/>
<rect x="814.2" y="51.2" width="2.5" height="2.5"/>
<rect x="823.8" y="48.2" width="2.5" height="2.5"/>
<rect x="830.3" y="55.9" width="2.5" height="2.5"/>
<rect x="830.6" y="58.0" width="2.5" height="2.5"/>
<rect x="844.0" y="58.7" width="2.5" height="2.5"/>
<rect x="859.4" y="62.3" width="2.5" height="2.5"/>
<rect x="868.6" y="68.4" width="2.5" height="2.5"/>
<rect x="873.0" y="70.7" width="2.5" height="2.5"/>
<rect x="876.0" y="71.6" width="2.5" height="2.5"/>
<rect x="884.4" y="77.2" width="2.5" height="2.5"/>
<rect x="886.9" y="77.4" width="2.5" height="2.5"/>
<rect x="888.6" y="82.2" width="2.5" height="2.5"/>
<rect x="894.4" y="85.6" width="2.5" height="2.5"/>
<rect x="893.7" y="88.7" width="2.5" height="2.5"/>
<rect x="896.3" y="87.9" width="2.5" height="2.5"/>
<rect x="897.8" y="88.6" width="2.5" height="2.5"/>
<rect x="905.7" y="93.9" width="2.5" height="2.5"/>
<rect x="908.5" y="94.6" width="2.5" height="2.5"/>
<rect x="911.2" y="96.3" width="2.5" height="2.5"/>
<rect x="913.0" y="95.9" width="2.5" height="2.5"/>
<rect x="915.2" y="98.7" width="2.5" height="2.5"/>
<rect x="916.6" y="99.7" width="2.5" height="2.5"/>
<rect x="922.4" y="99.5" width="2.5" height="2.5"/>
<rect x="925.2" y="101.9" width="2.5" height="2.5"/>
<rect x="927.9" y="106.9" width="2.5" height="2.5"/>
<rect x="932.9" y="109.4" width="2.5" height="2.5"/>
<rect x="935.9" y="111.4" width="2.5" height="2.5"/>
<rect x="937.2" y="112.6" width="2.5" height="2.5"/>
<rect x="941.4" y="115.8" width="2.5" height="2.5"/>
<rect x="947.6" y="119.1" width="2.5" height="2.5"/>
<rect x="955.3" y="120.0" width="2.5" height="2.5"/>
<rect x="970.1" y="125.1" width="2.5" height="2.5"/>
<rect x="973.4" y="129.5" width="2.5" height="2.5"/>
<rect x="977.5" y="130.6" width="2.5" height="2.5"/>
<rect x="979.1" y="130.7" width="2.5" height="2.5"/>
<rect x="984.8" y="133.3" width="2.5" height="2.5"/>
<rect x="961.5" y="110.5" width="3" height="3"/>
<path d="M877,91.4 L877,71.5 M883.5,83.5 L877,71.5 L870.5,83.5" fill="none" stroke="#000" stroke-width="2.4" stroke-linejoin="miter"/>
<path d="M924.7,133.7 L924.7,101.8 M931.2,113.8 L924.7,101.8 L918.2,113.8" fill="none" stroke="#000" stroke-width="2.4" stroke-linejoin="miter"/>
<text transform="translate(719.6,140) rotate(-90) scale(1.08,1)" font-weight="bold" font-size="16.5">115.6</text>
<text transform="translate(738.4,102.5) rotate(-90) scale(1.03,1)" font-weight="bold" font-size="16.5">151.7</text>
<text transform="translate(761.3,39.8) scale(1.05,1)" font-weight="bold" font-size="16.5">259.0</text>
<text transform="translate(831.2,145.1) rotate(-90) scale(1.08,1)" font-weight="bold" font-size="16.5">330.9</text>
<text transform="translate(859.0,185.7) rotate(-90) scale(1.08,1)" font-weight="bold" font-size="16.5">396.9</text>
<text transform="translate(883.6,68.1) rotate(-90) scale(1.08,1)" font-weight="bold" font-size="16.5">440.0</text>
<text transform="translate(929.6,100.3) rotate(-90) scale(1.15,1)" font-weight="bold" font-size="16.5">559.8</text>
</svg>
</body></html>
